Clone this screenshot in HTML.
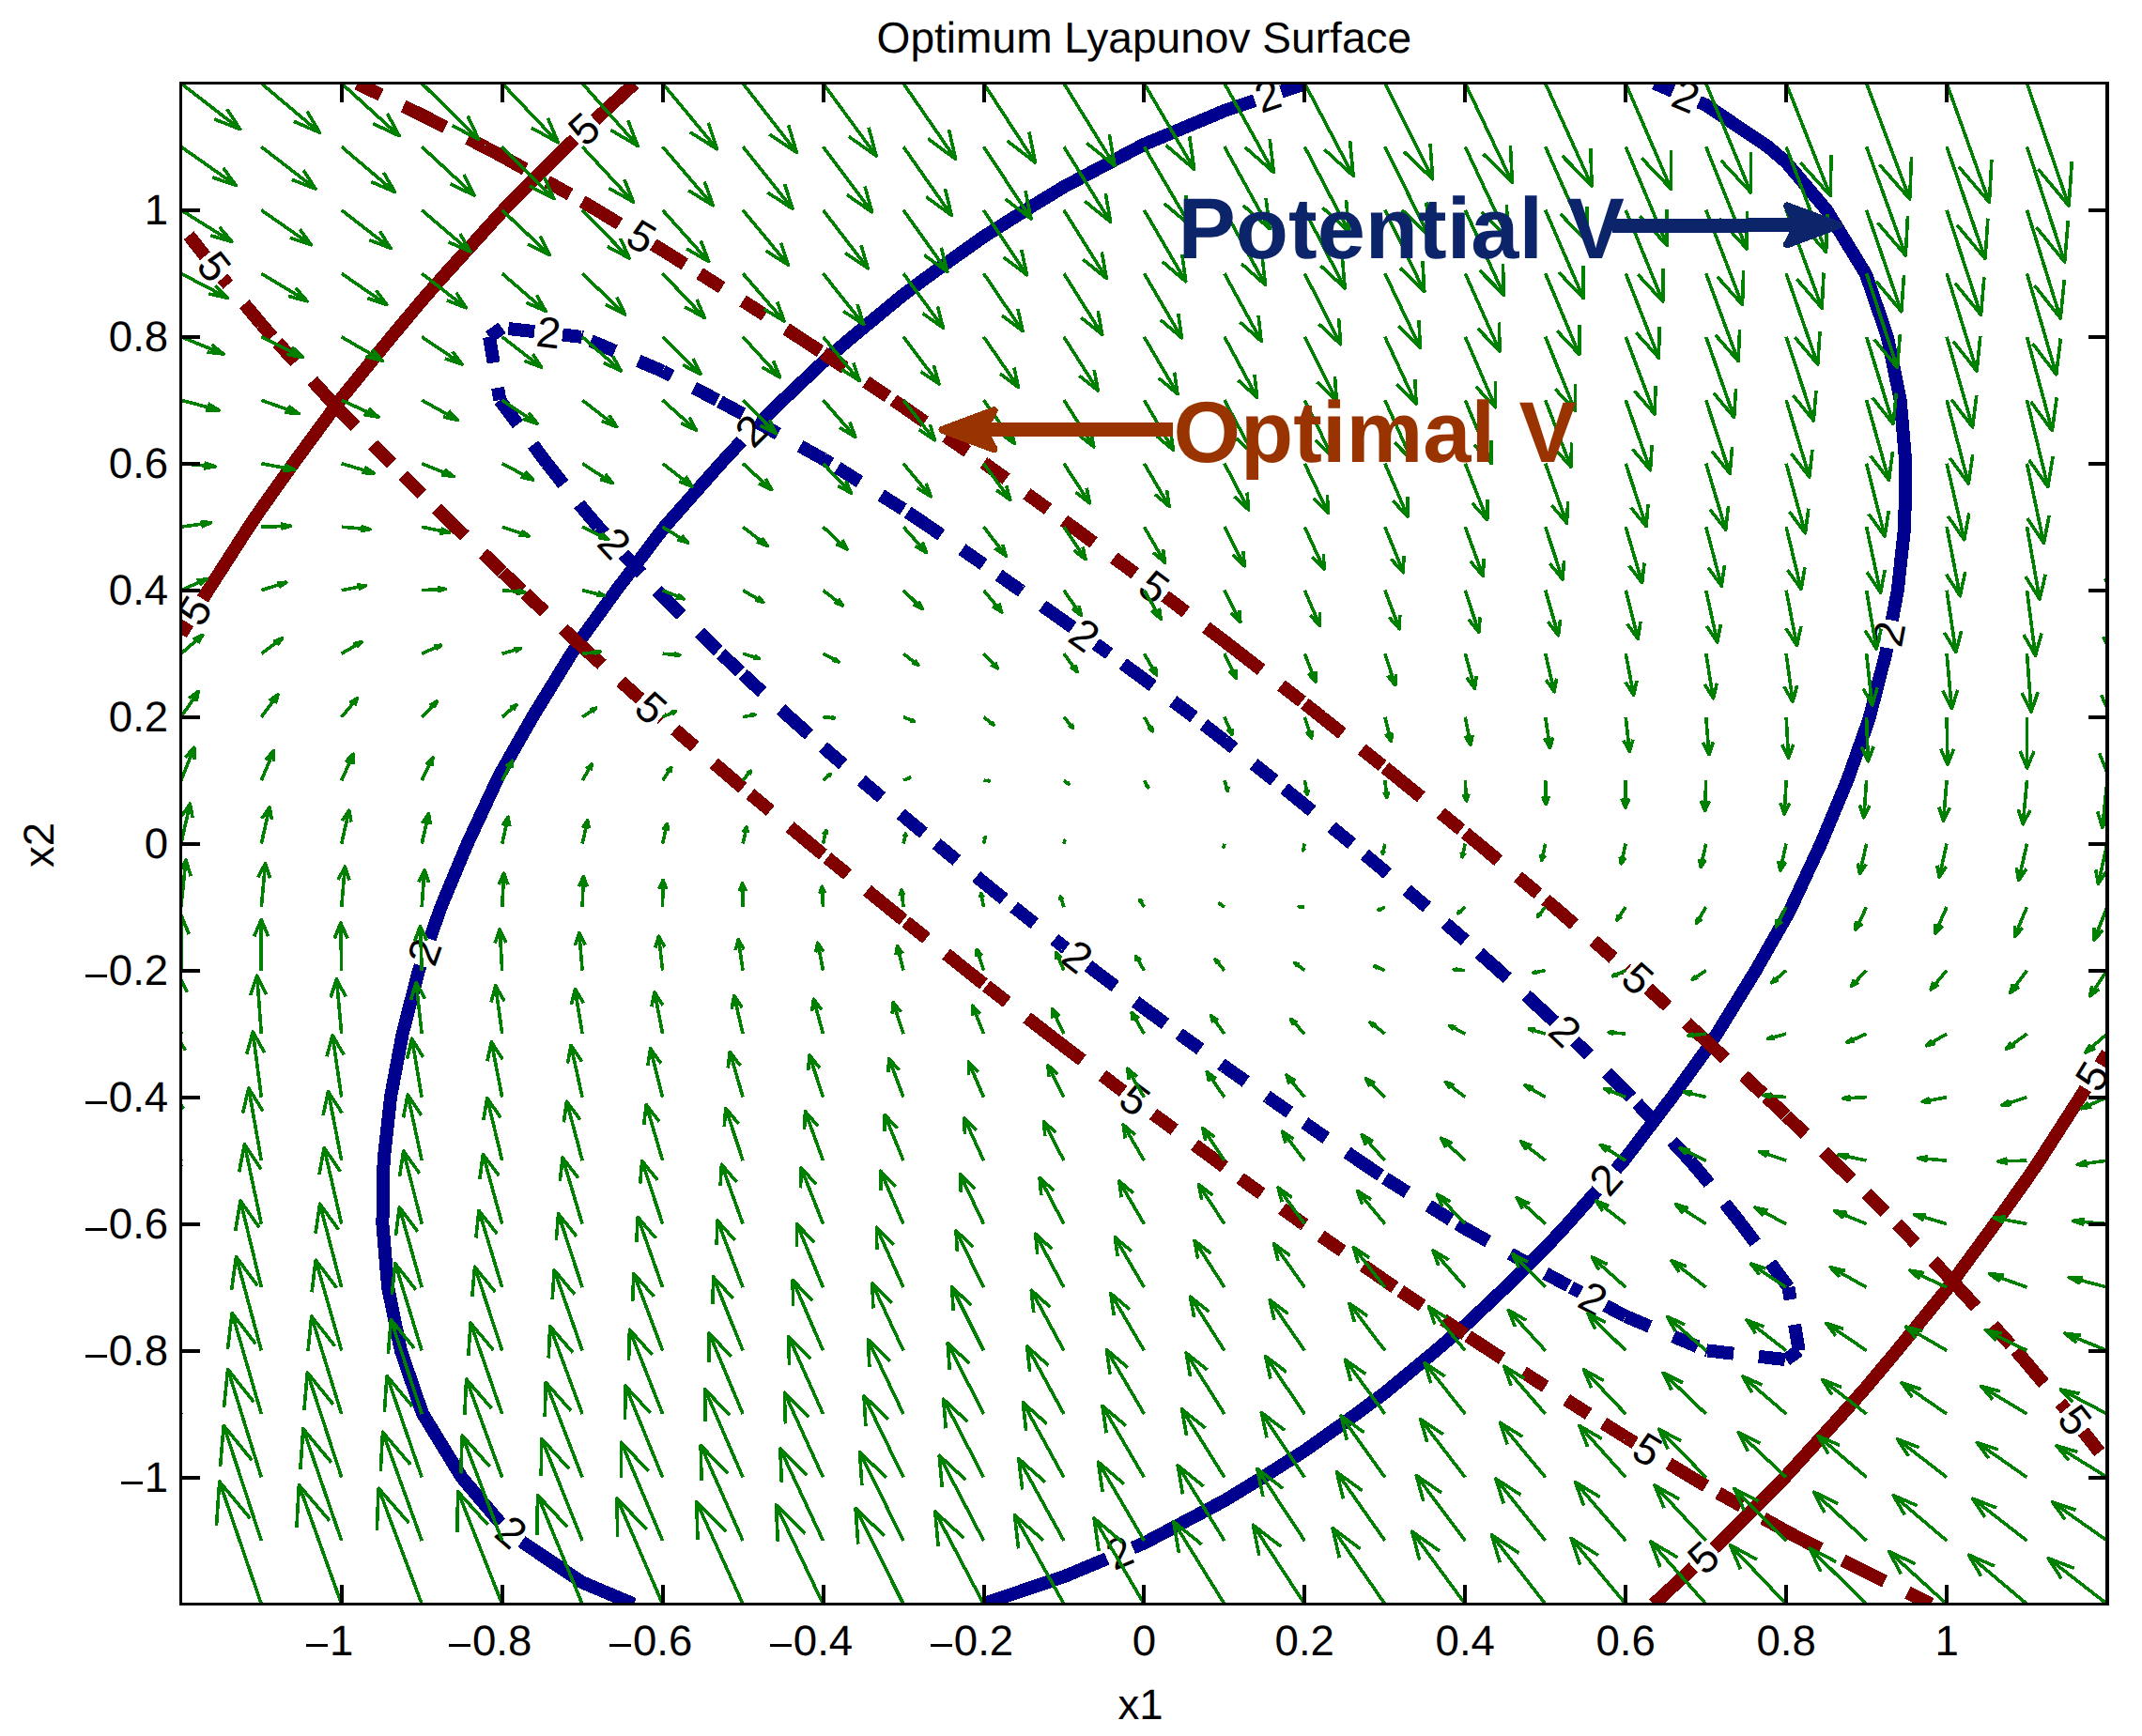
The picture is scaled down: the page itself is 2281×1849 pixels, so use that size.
<!DOCTYPE html>
<html><head><meta charset="utf-8"><title>Optimum Lyapunov Surface</title>
<style>html,body{margin:0;padding:0;background:#fff}svg{display:block}</style></head>
<body>
<svg width="2281" height="1849" viewBox="0 0 2281 1849" shape-rendering="crispEdges" text-rendering="geometricPrecision">
<rect width="2281" height="1849" fill="#fff"/>
<defs><clipPath id="ax"><rect x="192.8" y="88.8" width="2051.2" height="1619.7"/></clipPath></defs>
<g clip-path="url(#ax)">
<path d="M674.9 1708.5 L620.1 1685.4 L555.5 1642" fill="none" stroke="#00008f" stroke-width="14.0" stroke-linejoin="miter"/>
<path d="M533 1622.3 L491.6 1573.5 L450.3 1506 L449.2 1503.4 L426.9 1438.6 L413.1 1371.1 L407.4 1303.6 L408.6 1236.1 L416 1168.6 L428.6 1101.1 L445.9 1033.6 L447.7 1028.4" fill="none" stroke="#00008f" stroke-width="14.0" stroke-linejoin="miter"/>
<path d="M457.6 1000.1 L469.6 966.1 L497.7 898.6 L529.1 831.2 L534.7 820.6 L567.1 763.7 L608.5 696.2 L620.1 678.7 L656.3 628.7 L705.6 563.8 L707.7 561.2 L767.5 493.7 L789.8 469.7" fill="none" stroke="#00008f" stroke-width="14.0" stroke-linejoin="miter"/>
<path d="M811 448.5 L833.6 426.2 L876.5 385.6 L907.7 358.8 L962 313.9 L992.5 291.3 L1047.5 252.1 L1092.2 223.8 L1132.9 199 L1213.5 156.3 L1218.4 153.8 L1303.9 118 L1336.1 107.2" fill="none" stroke="#00008f" stroke-width="14.0" stroke-linejoin="miter"/>
<path d="M1364.5 97.7 L1389.3 89.3 L1391.7 88.8" fill="none" stroke="#00008f" stroke-width="14.0" stroke-linejoin="miter"/>
<path d="M1761.9 88.8 L1781.5 97.1" fill="none" stroke="#00008f" stroke-width="14.0" stroke-linejoin="miter"/>
<path d="M1809.1 108.7 L1816.7 111.9 L1882.8 156.3 L1902.1 172.9 L1945.2 223.8 L1986.5 291.3 L1987.6 293.9 L2009.9 358.8 L2023.7 426.2 L2029.4 493.7 L2028.2 561.2 L2020.8 628.7 L2014.8 660.7" fill="none" stroke="#00008f" stroke-width="14.0" stroke-linejoin="miter"/>
<path d="M2009.3 690.1 L2008.2 696.2 L1990.9 763.7 L1987.6 773.6 L1967.2 831.2 L1939.1 898.6 L1907.7 966.1 L1902.1 976.7 L1869.7 1033.6 L1828.3 1101.1 L1816.7 1118.6 L1780.5 1168.6 L1731.2 1233.5 L1729.1 1236.1 L1720.6 1245.7" fill="none" stroke="#00008f" stroke-width="14.0" stroke-linejoin="miter"/>
<path d="M1700.7 1268.1 L1669.3 1303.6 L1645.7 1329 L1603.2 1371.1 L1560.3 1411.7 L1529.1 1438.5 L1474.8 1483.4 L1444.3 1506 L1389.3 1545.2 L1344.6 1573.5 L1303.9 1598.3 L1223.3 1641 L1218.4 1643.5 L1206.4 1648.6" fill="none" stroke="#00008f" stroke-width="14.0" stroke-linejoin="miter"/>
<path d="M1178.7 1660.1 L1132.9 1679.3 L1047.5 1708 L1045.1 1708.5" fill="none" stroke="#00008f" stroke-width="14.0" stroke-linejoin="miter"/>
<path d="M2244 1121.8 L2236.6 1133.8" fill="none" stroke="#800000" stroke-width="14.0" stroke-linejoin="miter"/>
<path d="M2220.9 1159.4 L2215.2 1168.6 L2171.8 1236.1 L2158.5 1255.7 L2124.4 1303.6 L2074.8 1371.1 L2073.1 1373.3 L2020 1438.5 L1987.6 1477.2 L1962.1 1506 L1902.1 1572 L1900.7 1573.5 L1833.3 1641 L1825.1 1649" fill="none" stroke="#800000" stroke-width="14.0" stroke-linejoin="miter"/>
<path d="M1803.3 1669.6 L1761 1708.5" fill="none" stroke="#800000" stroke-width="14.0" stroke-linejoin="miter"/>
<path d="M192.8 675.5 L200.2 663.5" fill="none" stroke="#800000" stroke-width="14.0" stroke-linejoin="miter"/>
<path d="M215.9 637.9 L221.6 628.7 L265 561.2 L278.3 541.6 L312.4 493.7 L362 426.2 L363.7 424 L416.8 358.8 L449.2 320.1 L474.7 291.3 L534.7 225.3 L536.1 223.8 L603.5 156.3 L611.7 148.3" fill="none" stroke="#800000" stroke-width="14.0" stroke-linejoin="miter"/>
<path d="M633.5 127.7 L675.8 88.8" fill="none" stroke="#800000" stroke-width="14.0" stroke-linejoin="miter"/>
<path d="M380.4 88.8L405.5 101.1 M429.7 113.1L449.2 122.6 M449.2 122.6L474.2 135.3 M498.3 147.5L515.6 156.3 M515.6 156.3L534.7 166.4 M534.7 166.4L559.1 180.1 M582.6 193.4L607 207.1 M620.1 214.6L635.7 223.8 M635.7 223.8L659.6 238.4" fill="none" stroke="#800000" stroke-width="14.0"/>
<path d="M695.6 260.4L705.6 266.5 M705.6 266.5L729.3 281.4 M745.1 291.3L768.7 306.3 M791.1 320.5L814.6 335.7 M837.2 350.4L850.1 358.8 M850.1 358.8L873.5 374.1 M876.5 376.1L899.8 391.7 M922.2 406.7L945.5 422.3 M951.4 426.2L962 433.4 M962 433.4L985 449.4 M1007.2 464.8L1030.2 480.8 M1047.5 492.8L1048.8 493.7 M1048.8 493.7L1071.5 510.1 M1093.4 525.9L1116.1 542.3 M1132.9 554.5L1142.1 561.2 M1142.1 561.2L1164.5 577.9 M1186.2 594.1L1208.7 610.8" fill="none" stroke="#800000" stroke-width="14.0"/>
<path d="M1240.7 634.9L1262.9 651.9 M1284.4 668.2L1303.9 683 M1303.9 683L1321 696.2 M1321 696.2L1343.1 713.4 M1364.4 730L1386.5 747.2 M1389.3 749.4L1407.4 763.7 M1407.4 763.7L1429.2 781.2 M1450.3 798L1472.2 815.5 M1474.8 817.6L1491.6 831.2 M1491.6 831.2L1513.3 848.9 M1534.2 865.9L1555.9 883.6 M1560.3 887.2L1574.2 898.6 M1574.2 898.6L1595.7 916.6 M1616.5 933.8L1638 951.7 M1645.7 958.2L1655.2 966.1 M1655.2 966.1L1676.4 984.4 M1696.9 1002L1718.1 1020.3 M1731.2 1031.5L1732.7 1032.8" fill="none" stroke="#800000" stroke-width="14.0"/>
<path d="M1755 1052.9L1775.8 1071.6 M1795.9 1089.6L1808.7 1101.1 M1808.7 1101.1L1816.7 1108.4 M1816.7 1108.4L1837.1 1127.5 M1856.9 1145.9L1877.4 1165 M1881.2 1168.6L1901.6 1187.9 M1902.1 1188.4L1922.3 1207.8 M1941.8 1226.5L1951.8 1236.1 M1951.8 1236.1L1971.8 1255.7 M1987.6 1271.2L2007.4 1291 M2020 1303.6L2039.5 1323.7 M2058.3 1343L2073.1 1358.2 M2073.1 1358.2L2085.2 1371.1 M2085.2 1371.1L2104.1 1391.8 M2122.3 1411.7L2141.2 1432.4 M2146.8 1438.5L2158.5 1452 M2158.5 1452L2176.5 1473.5 M2193.9 1494.2L2199.7 1501.1" fill="none" stroke="#800000" stroke-width="14.0"/>
<path d="M2218.4 1524.6L2235.7 1546.6" fill="none" stroke="#800000" stroke-width="14.0"/>
<path d="M2056.4 1708.5L2031.3 1696.2 M2007.1 1684.2L1987.6 1674.7 M1987.6 1674.7L1962.6 1662 M1938.5 1649.8L1921.2 1641 M1921.2 1641L1902.1 1630.9 M1902.1 1630.9L1877.7 1617.2 M1854.2 1603.9L1829.8 1590.2 M1816.7 1582.7L1801.1 1573.5 M1801.1 1573.5L1777.2 1558.9" fill="none" stroke="#800000" stroke-width="14.0"/>
<path d="M1741.2 1536.9L1731.2 1530.8 M1731.2 1530.8L1707.5 1515.9 M1691.7 1506L1668.1 1491 M1645.7 1476.8L1622.2 1461.6 M1599.6 1446.9L1586.7 1438.5 M1586.7 1438.5L1563.3 1423.2 M1560.3 1421.2L1537 1405.6 M1514.6 1390.6L1491.3 1375 M1485.4 1371.1L1474.8 1363.9 M1474.8 1363.9L1451.8 1347.9 M1429.6 1332.5L1406.6 1316.5 M1389.3 1304.5L1388 1303.6 M1388 1303.6L1365.3 1287.2 M1343.4 1271.4L1320.7 1255 M1303.9 1242.8L1294.7 1236.1 M1294.7 1236.1L1272.3 1219.4 M1250.6 1203.2L1228.1 1186.5" fill="none" stroke="#800000" stroke-width="14.0"/>
<path d="M1196.1 1162.4L1173.9 1145.4 M1152.4 1129.1L1132.9 1114.3 M1132.9 1114.3L1115.8 1101.1 M1115.8 1101.1L1093.7 1083.9 M1072.4 1067.3L1050.3 1050.1 M1047.5 1047.9L1029.4 1033.6 M1029.4 1033.6L1007.6 1016.1 M986.5 999.3L964.6 981.8 M962 979.7L945.2 966.1 M945.2 966.1L923.5 948.4 M902.6 931.4L880.9 913.7 M876.5 910.1L862.6 898.7 M862.6 898.7L841.1 880.7 M820.3 863.5L798.8 845.6 M791.1 839.1L781.6 831.2 M781.6 831.2L760.4 812.9 M739.9 795.3L718.7 777 M705.6 765.8L704.1 764.5" fill="none" stroke="#800000" stroke-width="14.0"/>
<path d="M681.8 744.4L661 725.7 M640.9 707.7L628.1 696.2 M628.1 696.2L620.1 688.9 M620.1 688.9L599.7 669.8 M579.9 651.4L559.4 632.3 M555.6 628.7L535.2 609.4 M534.7 608.9L514.5 589.5 M495 570.8L485 561.2 M485 561.2L465 541.6 M449.2 526.1L429.4 506.3 M416.8 493.7L397.3 473.6 M378.5 454.3L363.7 439.1 M363.7 439.1L351.6 426.2 M351.6 426.2L332.7 405.5 M314.5 385.6L295.6 364.9 M290 358.8L278.3 345.3 M278.3 345.3L260.3 323.8 M242.9 303.1L237.1 296.2" fill="none" stroke="#800000" stroke-width="14.0"/>
<path d="M218.4 272.7L201.1 250.7" fill="none" stroke="#800000" stroke-width="14.0"/>
<path d="M534.7 349.2L521.1 358.8 M521.1 358.8L525.7 386.4 M530.1 413L532.3 426.2 M532.3 426.2L534.7 429.5 M534.7 429.5L551.4 452 M567.6 473.6L582.6 493.7 M582.6 493.7L600 515.7 M616.7 536.8L620.1 541.1 M620.1 541.1L637.2 561.2 M637.2 561.2L643.6 568.2" fill="none" stroke="#00008f" stroke-width="14.0"/>
<path d="M664 590.2L682.9 610.8 M699.4 628.7L705.6 635 M705.6 635L725.6 654.7 M744.8 673.6L764.8 693.2 M767.8 696.2L788.1 715.4 M791.1 718.2L811.7 737.1 M831.6 755.4L840.6 763.7 M840.6 763.7L861.5 782.3 M876.5 795.7L897.7 814 M917.3 831.2L938.7 849.3 M959.2 866.8L962 869.2 M962 869.2L983.5 887.2 M997.2 898.6L1018.8 916.4 M1039.7 933.6L1047.5 940 M1047.5 940L1069.2 957.6 M1079.7 966.1L1101.7 983.6 M1122.8 1000.4L1132.9 1008.5 M1132.9 1008.5L1135.2 1010.2" fill="none" stroke="#00008f" stroke-width="14.0"/>
<path d="M1158.8 1028.6L1165.3 1033.6 M1165.3 1033.6L1187.6 1050.5 M1209.1 1066.8L1218.4 1073.8 M1218.4 1073.8L1241 1090.4 M1255.6 1101.1L1278.3 1117.4 M1300.3 1133.2L1303.9 1135.8 M1303.9 1135.8L1326.7 1151.9 M1348.8 1167.5L1350.3 1168.6 M1350.3 1168.6L1373.2 1184.7 M1389.3 1196.1L1412.3 1212.1 M1434.5 1227.5L1446.9 1236.1 M1446.9 1236.1L1470.1 1251.7 M1474.8 1254.9L1498.5 1269.8 M1521.3 1284.2L1545 1299.2 M1552 1303.6L1560.3 1308.5 M1560.3 1308.5L1584.7 1322.1 M1608.3 1335.3L1632.7 1349 M1645.7 1356.3L1670.4 1369.6 M1673 1371.1L1683.1 1376.4" fill="none" stroke="#00008f" stroke-width="14.0"/>
<path d="M1709.6 1390.5L1731.2 1402 M1731.2 1402L1757 1412.9 M1781.9 1423.4L1807.7 1434.3 M1816.7 1438.1L1818.3 1438.5 M1818.3 1438.5L1846.1 1441.7 M1872.9 1444.8L1900.8 1448 M1902.1 1448.1L1915.7 1438.5 M1915.7 1438.5L1911.1 1410.9 M1906.7 1384.3L1904.5 1371.1 M1904.5 1371.1L1902.1 1367.8 M1902.1 1367.8L1885.4 1345.3 M1869.2 1323.7L1854.2 1303.6 M1854.2 1303.6L1836.8 1281.6 M1820.1 1260.5L1816.7 1256.2 M1816.7 1256.2L1799.6 1236.1 M1799.6 1236.1L1780.6 1215.5 M1762.3 1195.7L1743.3 1175.1 M1737.4 1168.6L1731.2 1162.3 M1731.2 1162.3L1711.2 1142.6 M1692 1123.7L1676.9 1108.9" fill="none" stroke="#00008f" stroke-width="14.0"/>
<path d="M1655.3 1088.1L1645.7 1079.1 M1645.7 1079.1L1625.1 1060.2 M1605.2 1041.9L1596.2 1033.6 M1596.2 1033.6L1575.3 1015 M1560.3 1001.6L1539.1 983.3 M1519.5 966.1L1498.1 948 M1477.6 930.5L1474.8 928.1 M1474.8 928.1L1453.3 910.1 M1439.6 898.6L1418 880.9 M1397.1 863.7L1389.3 857.3 M1389.3 857.3L1367.6 839.7 M1357.1 831.2L1335.1 813.7 M1314 796.9L1303.9 788.8 M1303.9 788.8L1281.8 771.6 M1271.5 763.7L1249.2 746.8 M1227.7 730.5L1218.4 723.5 M1218.4 723.5L1195.8 706.9 M1181.2 696.2L1166.8 685.8" fill="none" stroke="#00008f" stroke-width="14.0"/>
<path d="M1142.4 668.3L1132.9 661.5 M1132.9 661.5L1110.1 645.4 M1088 629.8L1086.5 628.7 M1086.5 628.7L1063.6 612.6 M1047.5 601.2L1024.5 585.2 M1002.3 569.8L989.9 561.2 M989.9 561.2L966.7 545.6 M962 542.4L938.3 527.5 M915.5 513.1L891.8 498.1 M884.8 493.7L876.5 488.8 M876.5 488.8L852.1 475.2 M828.5 462L804.1 448.3 M791.1 441L766.4 427.7 M763.8 426.2L739 413.1 M715.2 400.4L705.6 395.3 M705.6 395.3L679.8 384.4 M654.9 373.9L629.1 363 M620.1 359.2L618.5 358.8 M618.5 358.8L599 356.5" fill="none" stroke="#00008f" stroke-width="14.0"/>
<path d="M569.2 353.1L541.3 350" fill="none" stroke="#00008f" stroke-width="14.0"/>
<text transform="translate(1350.3 102.4) rotate(-18.6)" x="0" y="0" text-anchor="middle" font-family="Liberation Sans, Arial, Helvetica, sans-serif" font-size="46" fill="#000" dy="15.2">2</text>
<text transform="translate(800.4 459.1) rotate(-44.6)" x="0" y="0" text-anchor="middle" font-family="Liberation Sans, Arial, Helvetica, sans-serif" font-size="46" fill="#000" dy="15.2">2</text>
<text transform="translate(452.6 1014.2) rotate(-70.5)" x="0" y="0" text-anchor="middle" font-family="Liberation Sans, Arial, Helvetica, sans-serif" font-size="46" fill="#000" dy="15.2">2</text>
<text transform="translate(544.0 1632.4) rotate(40.7)" x="0" y="0" text-anchor="middle" font-family="Liberation Sans, Arial, Helvetica, sans-serif" font-size="46" fill="#000" dy="15.2">2</text>
<text transform="translate(1795.3 102.9) rotate(22.9)" x="0" y="0" text-anchor="middle" font-family="Liberation Sans, Arial, Helvetica, sans-serif" font-size="46" fill="#000" dy="15.2">2</text>
<text transform="translate(2012.1 675.4) rotate(-79.4)" x="0" y="0" text-anchor="middle" font-family="Liberation Sans, Arial, Helvetica, sans-serif" font-size="46" fill="#000" dy="15.2">2</text>
<text transform="translate(1710.6 1256.9) rotate(-48.5)" x="0" y="0" text-anchor="middle" font-family="Liberation Sans, Arial, Helvetica, sans-serif" font-size="46" fill="#000" dy="15.2">2</text>
<text transform="translate(1192.5 1654.4) rotate(-22.7)" x="0" y="0" text-anchor="middle" font-family="Liberation Sans, Arial, Helvetica, sans-serif" font-size="46" fill="#000" dy="15.2">2</text>
<text transform="translate(1814.3 1659.4) rotate(-42.6)" x="0" y="0" text-anchor="middle" font-family="Liberation Sans, Arial, Helvetica, sans-serif" font-size="46" fill="#000" dy="15.2">5</text>
<text transform="translate(2228.7 1146.6) rotate(-58.4)" x="0" y="0" text-anchor="middle" font-family="Liberation Sans, Arial, Helvetica, sans-serif" font-size="46" fill="#000" dy="15.2">5</text>
<text transform="translate(622.5 137.9) rotate(-42.6)" x="0" y="0" text-anchor="middle" font-family="Liberation Sans, Arial, Helvetica, sans-serif" font-size="46" fill="#000" dy="15.2">5</text>
<text transform="translate(208.1 650.7) rotate(-58.4)" x="0" y="0" text-anchor="middle" font-family="Liberation Sans, Arial, Helvetica, sans-serif" font-size="46" fill="#000" dy="15.2">5</text>
<text transform="translate(682.8 252.6) rotate(31.4)" x="0" y="0" text-anchor="middle" font-family="Liberation Sans, Arial, Helvetica, sans-serif" font-size="46" fill="#000" dy="15.2">5</text>
<text transform="translate(1228.7 625.8) rotate(37.0)" x="0" y="0" text-anchor="middle" font-family="Liberation Sans, Arial, Helvetica, sans-serif" font-size="46" fill="#000" dy="15.2">5</text>
<text transform="translate(1743.8 1042.8) rotate(41.9)" x="0" y="0" text-anchor="middle" font-family="Liberation Sans, Arial, Helvetica, sans-serif" font-size="46" fill="#000" dy="15.2">5</text>
<text transform="translate(2209.2 1512.8) rotate(51.8)" x="0" y="0" text-anchor="middle" font-family="Liberation Sans, Arial, Helvetica, sans-serif" font-size="46" fill="#000" dy="15.2">5</text>
<text transform="translate(1754.0 1544.7) rotate(31.4)" x="0" y="0" text-anchor="middle" font-family="Liberation Sans, Arial, Helvetica, sans-serif" font-size="46" fill="#000" dy="15.2">5</text>
<text transform="translate(1208.1 1171.5) rotate(37.0)" x="0" y="0" text-anchor="middle" font-family="Liberation Sans, Arial, Helvetica, sans-serif" font-size="46" fill="#000" dy="15.2">5</text>
<text transform="translate(693.0 754.5) rotate(41.9)" x="0" y="0" text-anchor="middle" font-family="Liberation Sans, Arial, Helvetica, sans-serif" font-size="46" fill="#000" dy="15.2">5</text>
<text transform="translate(227.6 284.5) rotate(51.8)" x="0" y="0" text-anchor="middle" font-family="Liberation Sans, Arial, Helvetica, sans-serif" font-size="46" fill="#000" dy="15.2">5</text>
<text transform="translate(584.1 354.8) rotate(6.5)" x="0" y="0" text-anchor="middle" font-family="Liberation Sans, Arial, Helvetica, sans-serif" font-size="46" fill="#000" dy="15.2">2</text>
<text transform="translate(1154.6 677.1) rotate(35.7)" x="0" y="0" text-anchor="middle" font-family="Liberation Sans, Arial, Helvetica, sans-serif" font-size="46" fill="#000" dy="15.2">2</text>
<text transform="translate(1666.2 1098.4) rotate(43.4)" x="0" y="0" text-anchor="middle" font-family="Liberation Sans, Arial, Helvetica, sans-serif" font-size="46" fill="#000" dy="15.2">2</text>
<text transform="translate(653.8 579.2) rotate(47.3)" x="0" y="0" text-anchor="middle" font-family="Liberation Sans, Arial, Helvetica, sans-serif" font-size="46" fill="#000" dy="15.2">2</text>
<text transform="translate(1147.0 1019.4) rotate(37.9)" x="0" y="0" text-anchor="middle" font-family="Liberation Sans, Arial, Helvetica, sans-serif" font-size="46" fill="#000" dy="15.2">2</text>
<text transform="translate(1696.3 1383.5) rotate(28.0)" x="0" y="0" text-anchor="middle" font-family="Liberation Sans, Arial, Helvetica, sans-serif" font-size="46" fill="#000" dy="15.2">2</text>
<path d="M192.8 1708.5L149.1 1574.6M145 1622.5L149.1 1574.6L182 1615 M192.8 1641L153.5 1514.7M149.1 1559.8L153.5 1514.7L183.9 1553 M192.8 1573.5L158 1454.8M153.1 1497L158 1454.8L185.8 1491 M192.8 1506L162.4 1395M157.1 1434.2L162.4 1395L187.8 1429 M192.8 1438.5L166.8 1335.1M161.1 1371.5L166.8 1335.1L189.7 1367 M192.8 1371.1L171.3 1275.2M165.2 1308.7L171.3 1275.2L191.6 1305 M192.8 1303.6L175.7 1215.3M169.2 1245.9L175.7 1215.3L193.5 1243 M192.8 1236.1L180.2 1155.5M173.2 1183.2L180.2 1155.5L195.5 1181 M192.8 1168.6L184.6 1095.6M177.3 1120.4L184.6 1095.6L197.4 1119 M192.8 1101.1L189.1 1035.7M181.3 1057.6L189.1 1035.7L199.3 1057 M192.8 1033.6L193.5 975.9M185.3 994.9L193.5 975.9L201.2 995 M192.8 966.1L198 916M189.3 932.1L198 916L203.2 933 M192.8 898.6L202.4 856.1M193.4 869.3L202.4 856.1L205.1 871 M192.8 831.2L206.8 796.2M197.4 806.6L206.8 796.2L207 809 M192.8 763.7L211.3 736.4M201.4 743.8L211.3 736.4L209 747 M192.8 696.2L215.7 676.5M205.4 681L215.7 676.5L210.9 685 M192.8 628.7L220.2 616.6M209.5 618.3L220.2 616.6L212.8 623 M192.8 561.2L224.6 556.8M213.5 555.5L224.6 556.8L214.7 561 M192.8 493.7L229.1 496.9M217.5 492.7L229.1 496.9L216.7 499 M192.8 426.2L233.5 437M221.6 430L233.5 437L218.6 437 M192.8 358.8L238 377.1M225.6 367.2L238 377.1L220.5 375 M192.8 291.3L242.4 317.3M229.6 304.4L242.4 317.3L222.4 313 M192.8 223.8L246.8 257.4M233.6 241.7L246.8 257.4L224.4 250.9 M192.8 156.3L251.3 197.5M237.7 178.9L251.3 197.5L226.3 188.9 M192.8 88.8L255.7 137.7M241.7 116.1L255.7 137.7L228.2 126.9 M278.3 1708.5L233.7 1578.1M230.5 1625L233.7 1578.1L266.4 1617.3 M278.3 1641L238.2 1518.3M234.5 1562.2L238.2 1518.3L268.3 1555.3 M278.3 1573.5L242.6 1458.4M238.5 1499.4L242.6 1458.4L270.3 1493.3 M278.3 1506L247.1 1398.5M242.5 1436.7L247.1 1398.5L272.2 1431.3 M278.3 1438.5L251.5 1338.6M246.6 1373.9L251.5 1338.6L274.1 1369.3 M278.3 1371.1L256 1278.8M250.6 1311.1L256 1278.8L276 1307.3 M278.3 1303.6L260.4 1218.9M254.6 1248.4L260.4 1218.9L278 1245.3 M278.3 1236.1L264.8 1159M258.6 1185.6L264.8 1159L279.9 1183.3 M278.3 1168.6L269.3 1099.1M262.7 1122.8L269.3 1099.1L281.8 1121.3 M278.3 1101.1L273.7 1039.3M266.7 1060.1L273.7 1039.3L283.8 1059.3 M278.3 1033.6L278.2 979.4M270.7 997.3L278.2 979.4L285.7 997.3 M278.3 966.1L282.6 919.5M274.8 934.5L282.6 919.5L287.6 935.3 M278.3 898.6L287.1 859.7M278.8 871.8L287.1 859.7L289.5 873.3 M278.3 831.2L291.5 799.8M282.8 809L291.5 799.8L291.5 811.3 M278.3 763.7L296 739.9M286.8 746.2L296 739.9L293.4 749.3 M278.3 696.2L300.4 680M290.9 683.5L300.4 680L295.3 687.3 M278.3 628.7L304.8 620.2M294.9 620.7L304.8 620.2L297.2 625.3 M278.3 561.2L309.3 560.3M298.9 557.9L309.3 560.3L299.2 563.3 M278.3 493.7L313.7 500.4M303 495.2L313.7 500.4L301.1 501.3 M278.3 426.2L318.2 440.6M307 432.4L318.2 440.6L303 439.3 M278.3 358.8L322.6 380.7M311 369.6L322.6 380.7L305 377.3 M278.3 291.3L327.1 320.8M315 306.9L327.1 320.8L306.9 315.3 M278.3 223.8L331.5 260.9M319.1 244.1L331.5 260.9L308.8 253.3 M278.3 156.3L336 201.1M323.1 181.3L336 201.1L310.7 191.3 M278.3 88.8L340.4 141.2M327.1 118.6L340.4 141.2L312.7 129.2 M363.7 1708.5L318.4 1581.7M315.9 1627.4L318.4 1581.7L350.9 1619.6 M363.7 1641L322.8 1521.8M319.9 1564.7L322.8 1521.8L352.8 1557.6 M363.7 1573.5L327.3 1461.9M323.9 1501.9L327.3 1461.9L354.7 1495.6 M363.7 1506L331.7 1402.1M328 1439.1L331.7 1402.1L356.6 1433.6 M363.7 1438.5L336.2 1342.2M332 1376.4L336.2 1342.2L358.6 1371.6 M363.7 1371.1L340.6 1282.3M336 1313.6L340.6 1282.3L360.5 1309.6 M363.7 1303.6L345.1 1222.4M340 1250.8L345.1 1222.4L362.4 1247.6 M363.7 1236.1L349.5 1162.6M344.1 1188.1L349.5 1162.6L364.3 1185.6 M363.7 1168.6L354 1102.7M348.1 1125.3L354 1102.7L366.3 1123.6 M363.7 1101.1L358.4 1042.8M352.1 1062.5L358.4 1042.8L368.2 1061.6 M363.7 1033.6L362.8 982.9M356.1 999.7L362.8 982.9L370.1 999.6 M363.7 966.1L367.3 923.1M360.2 937L367.3 923.1L372.1 937.6 M363.7 898.6L371.7 863.2M364.2 874.2L371.7 863.2L374 875.6 M363.7 831.2L376.2 803.3M368.2 811.4L376.2 803.3L375.9 813.6 M363.7 763.7L380.6 743.5M372.3 748.7L380.6 743.5L377.8 751.6 M363.7 696.2L385.1 683.6M376.3 685.9L385.1 683.6L379.8 689.6 M363.7 628.7L389.5 623.7M380.3 623.1L389.5 623.7L381.7 627.6 M363.7 561.2L394 563.8M384.3 560.4L394 563.8L383.6 565.6 M363.7 493.7L398.4 504M388.4 497.6L398.4 504L385.5 503.6 M363.7 426.2L402.8 444.1M392.4 434.8L402.8 444.1L387.5 441.6 M363.7 358.8L407.3 384.2M396.4 372.1L407.3 384.2L389.4 379.6 M363.7 291.3L411.7 324.4M400.5 309.3L411.7 324.4L391.3 317.6 M363.7 223.8L416.2 264.5M404.5 246.5L416.2 264.5L393.3 255.6 M363.7 156.3L420.6 204.6M408.5 183.8L420.6 204.6L395.2 193.6 M363.7 88.8L425.1 144.7M412.5 121L425.1 144.7L397.1 131.6 M449.2 1708.5L403.1 1585.2M401.3 1629.9L403.1 1585.2L435.3 1621.9 M449.2 1641L407.5 1525.3M405.3 1567.1L407.5 1525.3L437.2 1559.9 M449.2 1573.5L412 1465.5M409.3 1504.3L412 1465.5L439.1 1497.9 M449.2 1506L416.4 1405.6M413.4 1441.6L416.4 1405.6L441.1 1435.9 M449.2 1438.5L420.8 1345.7M417.4 1378.8L420.8 1345.7L443 1373.9 M449.2 1371.1L425.3 1285.9M421.4 1316L425.3 1285.9L444.9 1311.9 M449.2 1303.6L429.7 1226M425.5 1253.3L429.7 1226L446.9 1249.9 M449.2 1236.1L434.2 1166.1M429.5 1190.5L434.2 1166.1L448.8 1187.9 M449.2 1168.6L438.6 1106.2M433.5 1127.7L438.6 1106.2L450.7 1125.9 M449.2 1101.1L443.1 1046.4M437.5 1065L443.1 1046.4L452.6 1063.9 M449.2 1033.6L447.5 986.5M441.6 1002.2L447.5 986.5L454.6 1001.9 M449.2 966.1L452 926.6M445.6 939.4L452 926.6L456.5 939.9 M449.2 898.6L456.4 866.8M449.6 876.7L456.4 866.8L458.4 877.9 M449.2 831.2L460.8 806.9M453.7 813.9L460.8 806.9L460.4 815.9 M449.2 763.7L465.3 747M457.7 751.1L465.3 747L462.3 753.9 M449.2 696.2L469.7 687.1M461.7 688.4L469.7 687.1L464.2 691.9 M449.2 628.7L474.2 627.3M465.7 625.6L474.2 627.3L466.1 629.9 M449.2 561.2L478.6 567.4M469.8 562.8L478.6 567.4L468.1 567.9 M449.2 493.7L483.1 507.5M473.8 500.1L483.1 507.5L470 505.9 M449.2 426.2L487.5 447.6M477.8 437.3L487.5 447.6L471.9 443.9 M449.2 358.8L492 387.8M481.8 374.5L492 387.8L473.8 381.9 M449.2 291.3L496.4 327.9M485.9 311.8L496.4 327.9L475.8 319.9 M449.2 223.8L500.8 268M489.9 249L500.8 268L477.7 257.9 M449.2 156.3L505.3 208.2M493.9 186.2L505.3 208.2L479.6 195.9 M449.2 88.8L509.7 148.3M498 123.4L509.7 148.3L481.6 133.9 M534.7 1708.5L487.7 1588.8M486.7 1632.3L487.7 1588.8L519.7 1624.2 M534.7 1641L492.2 1528.9M490.7 1569.5L492.2 1528.9L521.7 1562.2 M534.7 1573.5L496.6 1469M494.8 1506.8L496.6 1469L523.6 1500.2 M534.7 1506L501.1 1409.1M498.8 1444L501.1 1409.1L525.5 1438.2 M534.7 1438.5L505.5 1349.3M502.8 1381.2L505.5 1349.3L527.4 1376.2 M534.7 1371.1L510 1289.4M506.8 1318.5L510 1289.4L529.4 1314.2 M534.7 1303.6L514.4 1229.5M510.9 1255.7L514.4 1229.5L531.3 1252.2 M534.7 1236.1L518.8 1169.7M514.9 1192.9L518.8 1169.7L533.2 1190.2 M534.7 1168.6L523.3 1109.8M518.9 1130.2L523.3 1109.8L535.2 1128.2 M534.7 1101.1L527.7 1049.9M523 1067.4L527.7 1049.9L537.1 1066.2 M534.7 1033.6L532.2 990M527 1004.6L532.2 990L539 1004.2 M534.7 966.1L536.6 930.2M531 941.9L536.6 930.2L540.9 942.2 M534.7 898.6L541.1 870.3M535 879.1L541.1 870.3L542.9 880.2 M534.7 831.2L545.5 810.4M539.1 816.3L545.5 810.4L544.8 818.2 M534.7 763.7L550 750.6M543.1 753.6L550 750.6L546.7 756.2 M534.7 696.2L554.4 690.7M547.1 690.8L554.4 690.7L548.6 694.2 M534.7 628.7L558.8 630.8M551.2 628L558.8 630.8L550.6 632.2 M534.7 561.2L563.3 570.9M555.2 565.3L563.3 570.9L552.5 570.2 M534.7 493.7L567.7 511.1M559.2 502.5L567.7 511.1L554.4 508.2 M534.7 426.2L572.2 451.2M563.2 439.7L572.2 451.2L556.4 446.2 M534.7 358.8L576.6 391.3M567.3 377L576.6 391.3L558.3 384.2 M534.7 291.3L581.1 331.4M571.3 314.2L581.1 331.4L560.2 322.2 M534.7 223.8L585.5 271.6M575.3 251.4L585.5 271.6L562.1 260.2 M534.7 156.3L590 211.7M579.4 188.7L590 211.7L564.1 198.2 M534.7 88.8L594.4 151.8M583.4 125.9L594.4 151.8L566 136.2 M620.1 1708.5L572.4 1592.3M572.1 1634.8L572.4 1592.3L604.2 1626.5 M620.1 1641L576.8 1532.4M576.2 1572L576.8 1532.4L606.1 1564.5 M620.1 1573.5L581.3 1472.6M580.2 1509.2L581.3 1472.6L608 1502.5 M620.1 1506L585.7 1412.7M584.2 1446.5L585.7 1412.7L610 1440.5 M620.1 1438.5L590.2 1352.8M588.2 1383.7L590.2 1352.8L611.9 1378.5 M620.1 1371.1L594.6 1292.9M592.3 1320.9L594.6 1292.9L613.8 1316.5 M620.1 1303.6L599.1 1233.1M596.3 1258.1L599.1 1233.1L615.7 1254.5 M620.1 1236.1L603.5 1173.2M600.3 1195.4L603.5 1173.2L617.7 1192.5 M620.1 1168.6L608 1113.3M604.4 1132.6L608 1113.3L619.6 1130.5 M620.1 1101.1L612.4 1053.5M608.4 1069.8L612.4 1053.5L621.5 1068.5 M620.1 1033.6L616.8 993.6M612.4 1007.1L616.8 993.6L623.5 1006.5 M620.1 966.1L621.3 933.7M616.4 944.3L621.3 933.7L625.4 944.5 M620.1 898.6L625.7 873.8M620.5 881.5L625.7 873.8L627.3 882.5 M620.1 831.2L630.2 814M624.5 818.8L630.2 814L629.2 820.5 M620.1 763.7L634.6 754.1M628.5 756L634.6 754.1L631.2 758.5 M620.1 696.2L639.1 694.2M632.5 693.2L639.1 694.2L633.1 696.5 M620.1 628.7L643.5 634.4M636.6 630.5L643.5 634.4L635 634.5 M620.1 561.2L648 574.5M640.6 567.7L648 574.5L636.9 572.5 M620.1 493.7L652.4 514.6M644.6 504.9L652.4 514.6L638.9 510.5 M620.1 426.2L656.8 454.7M648.7 442.2L656.8 454.7L640.8 448.5 M620.1 358.8L661.3 394.9M652.7 379.4L661.3 394.9L642.7 386.5 M620.1 291.3L665.7 335M656.7 316.6L665.7 335L644.7 324.5 M620.1 223.8L670.2 275.1M660.7 253.9L670.2 275.1L646.6 262.5 M620.1 156.3L674.6 215.2M664.8 191.1L674.6 215.2L648.5 200.5 M620.1 88.8L679.1 155.4M668.8 128.3L679.1 155.4L650.4 138.5 M705.6 1708.5L657.1 1595.8M657.5 1637.2L657.1 1595.8L688.6 1628.9 M705.6 1641L661.5 1536M661.6 1574.4L661.5 1536L690.5 1566.8 M705.6 1573.5L666 1476.1M665.6 1511.7L666 1476.1L692.5 1504.8 M705.6 1506L670.4 1416.2M669.6 1448.9L670.4 1416.2L694.4 1442.8 M705.6 1438.5L674.8 1356.4M673.7 1386.1L674.8 1356.4L696.3 1380.8 M705.6 1371.1L679.3 1296.5M677.7 1323.4L679.3 1296.5L698.3 1318.8 M705.6 1303.6L683.7 1236.6M681.7 1260.6L683.7 1236.6L700.2 1256.8 M705.6 1236.1L688.2 1176.7M685.7 1197.8L688.2 1176.7L702.1 1194.8 M705.6 1168.6L692.6 1116.9M689.8 1135.1L692.6 1116.9L704 1132.8 M705.6 1101.1L697.1 1057M693.8 1072.3L697.1 1057L706 1070.8 M705.6 1033.6L701.5 997.1M697.8 1009.5L701.5 997.1L707.9 1008.8 M705.6 966.1L706 937.3M701.9 946.8L706 937.3L709.8 946.8 M705.6 898.6L710.4 877.4M705.9 884L710.4 877.4L711.7 884.8 M705.6 831.2L714.8 817.5M709.9 821.2L714.8 817.5L713.7 822.8 M705.6 763.7L719.3 757.6M713.9 758.5L719.3 757.6L715.6 760.8 M705.6 696.2L723.7 697.8M718 695.7L723.7 697.8L717.5 698.8 M705.6 628.7L728.2 637.9M722 632.9L728.2 637.9L719.5 636.8 M705.6 561.2L732.6 578M726 570.2L732.6 578L721.4 574.8 M705.6 493.7L737.1 518.2M730.1 507.4L737.1 518.2L723.3 512.8 M705.6 426.2L741.5 458.3M734.1 444.6L741.5 458.3L725.2 450.8 M705.6 358.8L746 398.4M738.1 381.8L746 398.4L727.2 388.8 M705.6 291.3L750.4 338.5M742.1 319.1L750.4 338.5L729.1 326.8 M705.6 223.8L754.8 278.7M746.2 256.3L754.8 278.7L731 264.8 M705.6 156.3L759.3 218.8M750.2 193.5L759.3 218.8L733 202.8 M705.6 88.8L763.7 158.9M754.2 130.8L763.7 158.9L734.9 140.8 M791.1 1708.5L741.7 1599.4M743 1639.6L741.7 1599.4L773.1 1631.2 M791.1 1641L746.2 1539.5M747 1576.9L746.2 1539.5L775 1569.2 M791.1 1573.5L750.6 1479.6M751 1514.1L750.6 1479.6L776.9 1507.2 M791.1 1506L755.1 1419.8M755.1 1451.3L755.1 1419.8L778.8 1445.1 M791.1 1438.5L759.5 1359.9M759.1 1388.6L759.5 1359.9L780.8 1383.1 M791.1 1371.1L764 1300M763.1 1325.8L764 1300L782.7 1321.1 M791.1 1303.6L768.4 1240.2M767.1 1263L768.4 1240.2L784.6 1259.1 M791.1 1236.1L772.8 1180.3M771.2 1200.3L772.8 1180.3L786.6 1197.1 M791.1 1168.6L777.3 1120.4M775.2 1137.5L777.3 1120.4L788.5 1135.1 M791.1 1101.1L781.7 1060.5M779.2 1074.7L781.7 1060.5L790.4 1073.1 M791.1 1033.6L786.2 1000.7M783.2 1012L786.2 1000.7L792.3 1011.1 M791.1 966.1L790.6 940.8M787.3 949.2L790.6 940.8L794.3 949.1 M791.1 898.6L795.1 880.9M791.3 886.4L795.1 880.9L796.2 887.1 M791.1 831.2L799.5 821.1M795.3 823.7L799.5 821.1L798.1 825.1 M791.1 763.7L804 761.2M799.4 760.9L804 761.2L800 763.1 M791.1 696.2L808.4 701.3M803.4 698.1L808.4 701.3L802 701.1 M791.1 628.7L812.8 641.4M807.4 635.4L812.8 641.4L803.9 639.1 M791.1 561.2L817.3 581.6M811.4 572.6L817.3 581.6L805.8 577.1 M791.1 493.7L821.7 521.7M815.5 509.8L821.7 521.7L807.8 515.1 M791.1 426.2L826.2 461.8M819.5 447.1L826.2 461.8L809.7 453.1 M791.1 358.8L830.6 402M823.5 384.3L830.6 402L811.6 391.1 M791.1 291.3L835.1 342.1M827.6 321.5L835.1 342.1L813.5 329.1 M791.1 223.8L839.5 282.2M831.6 258.8L839.5 282.2L815.5 267.1 M791.1 156.3L844 222.3M835.6 196L844 222.3L817.4 205.1 M791.1 88.8L848.4 162.5M839.6 133.2L848.4 162.5L819.3 143.1 M876.5 1708.5L826.4 1602.9M828.4 1642.1L826.4 1602.9L857.5 1633.5 M876.5 1641L830.8 1543.1M832.4 1579.3L830.8 1543.1L859.4 1571.5 M876.5 1573.5L835.3 1483.2M836.4 1516.5L835.3 1483.2L861.4 1509.5 M876.5 1506L839.7 1423.3M840.5 1453.8L839.7 1423.3L863.3 1447.5 M876.5 1438.5L844.2 1363.4M844.5 1391L844.2 1363.4L865.2 1385.5 M876.5 1371.1L848.6 1303.6M848.5 1328.2L848.6 1303.6L867.1 1323.4 M876.5 1303.6L853.1 1243.7M852.6 1265.5L853.1 1243.7L869.1 1261.4 M876.5 1236.1L857.5 1183.8M856.6 1202.7L857.5 1183.8L871 1199.4 M876.5 1168.6L862 1124M860.6 1139.9L862 1124L872.9 1137.4 M876.5 1101.1L866.4 1064.1M864.6 1077.2L866.4 1064.1L874.9 1075.4 M876.5 1033.6L870.8 1004.2M868.7 1014.4L870.8 1004.2L876.8 1013.4 M876.5 966.1L875.3 944.3M872.7 951.6L875.3 944.3L878.7 951.4 M876.5 898.6L879.7 884.5M876.7 888.9L879.7 884.5L880.6 889.4 M876.5 831.2L884.2 824.6M880.7 826.1L884.2 824.6L882.6 827.4 M876.5 763.7L888.6 764.7M884.8 763.3L888.6 764.7L884.5 765.4 M876.5 696.2L893.1 704.9M888.8 700.6L893.1 704.9L886.4 703.4 M876.5 628.7L897.5 645M892.8 637.8L897.5 645L888.3 641.4 M876.5 561.2L902 585.1M896.9 575L902 585.1L890.3 579.4 M876.5 493.7L906.4 525.2M900.9 512.3L906.4 525.2L892.2 517.4 M876.5 426.2L910.8 465.4M904.9 449.5L910.8 465.4L894.1 455.4 M876.5 358.8L915.3 405.5M908.9 386.7L915.3 405.5L896.1 393.4 M876.5 291.3L919.7 345.6M913 324L919.7 345.6L898 331.4 M876.5 223.8L924.2 285.8M917 261.2L924.2 285.8L899.9 269.4 M876.5 156.3L928.6 225.9M921 198.4L928.6 225.9L901.8 207.4 M876.5 88.8L933.1 166M925.1 135.7L933.1 166L903.8 145.4 M962 1708.5L911.1 1606.5M913.8 1644.5L911.1 1606.5L941.9 1635.8 M962 1641L915.5 1546.6M917.8 1581.8L915.5 1546.6L943.9 1573.8 M962 1573.5L920 1486.7M921.9 1519L920 1486.7L945.8 1511.8 M962 1506L924.4 1426.9M925.9 1456.2L924.4 1426.9L947.7 1449.8 M962 1438.5L928.8 1367M929.9 1393.5L928.8 1367L949.7 1387.8 M962 1371.1L933.3 1307.1M933.9 1330.7L933.3 1307.1L951.6 1325.8 M962 1303.6L937.7 1247.2M938 1267.9L937.7 1247.2L953.5 1263.8 M962 1236.1L942.2 1187.4M942 1205.2L942.2 1187.4L955.4 1201.7 M962 1168.6L946.6 1127.5M946 1142.4L946.6 1127.5L957.4 1139.7 M962 1101.1L951.1 1067.6M950.1 1079.6L951.1 1067.6L959.3 1077.7 M962 1033.6L955.5 1007.8M954.1 1016.9L955.5 1007.8L961.2 1015.7 M962 966.1L960 947.9M958.1 954.1L960 947.9L963.1 953.7 M962 898.6L964.4 888M962.1 891.3L964.4 888L965.1 891.7 M962 831.2L968.8 828.1M966.2 828.6L968.8 828.1L967 829.7 M962 763.7L973.3 768.3M970.2 765.8L973.3 768.3L968.9 767.7 M962 696.2L977.7 708.4M974.2 703L977.7 708.4L970.9 705.7 M962 628.7L982.2 648.5M978.3 640.2L982.2 648.5L972.8 643.7 M962 561.2L986.6 588.7M982.3 577.5L986.6 588.7L974.7 581.7 M962 493.7L991.1 528.8M986.3 514.7L991.1 528.8L976.6 519.7 M962 426.2L995.5 468.9M990.3 451.9L995.5 468.9L978.6 457.7 M962 358.8L1000 409M994.4 389.2L1000 409L980.5 395.7 M962 291.3L1004.4 349.2M998.4 326.4L1004.4 349.2L982.4 333.7 M962 223.8L1008.8 289.3M1002.4 263.6L1008.8 289.3L984.3 271.7 M962 156.3L1013.3 229.4M1006.4 200.9L1013.3 229.4L986.3 209.7 M962 88.8L1017.7 169.6M1010.5 138.1L1017.7 169.6L988.2 147.7 M1047.5 1708.5L995.7 1610M999.2 1647L995.7 1610L1026.4 1638.1 M1047.5 1641L1000.2 1550.2M1003.3 1584.2L1000.2 1550.2L1028.3 1576.1 M1047.5 1573.5L1004.6 1490.3M1007.3 1521.4L1004.6 1490.3L1030.2 1514.1 M1047.5 1506L1009.1 1430.4M1011.3 1458.7L1009.1 1430.4L1032.2 1452.1 M1047.5 1438.5L1013.5 1370.5M1015.3 1395.9L1013.5 1370.5L1034.1 1390.1 M1047.5 1371.1L1018 1310.7M1019.4 1333.1L1018 1310.7L1036 1328.1 M1047.5 1303.6L1022.4 1250.8M1023.4 1270.4L1022.4 1250.8L1038 1266.1 M1047.5 1236.1L1026.8 1190.9M1027.4 1207.6L1026.8 1190.9L1039.9 1204.1 M1047.5 1168.6L1031.3 1131M1031.4 1144.8L1031.3 1131L1041.8 1142.1 M1047.5 1101.1L1035.7 1071.2M1035.5 1082.1L1035.7 1071.2L1043.7 1080 M1047.5 1033.6L1040.2 1011.3M1039.5 1019.3L1040.2 1011.3L1045.7 1018 M1047.5 966.1L1044.6 951.4M1043.5 956.5L1044.6 951.4L1047.6 956 M1047.5 898.6L1049.1 891.6M1047.6 893.8L1049.1 891.6L1049.5 894 M1047.5 831.2L1053.5 831.7M1051.6 831L1053.5 831.7L1051.4 832 M1047.5 763.7L1058 771.8M1055.6 768.2L1058 771.8L1053.4 770 M1047.5 696.2L1062.4 711.9M1059.6 705.5L1062.4 711.9L1055.3 708 M1047.5 628.7L1066.8 652.1M1063.7 642.7L1066.8 652.1L1057.2 646 M1047.5 561.2L1071.3 592.2M1067.7 579.9L1071.3 592.2L1059.2 584 M1047.5 493.7L1075.7 532.3M1071.7 517.2L1075.7 532.3L1061.1 522 M1047.5 426.2L1080.2 472.5M1075.8 454.4L1080.2 472.5L1063 460 M1047.5 358.8L1084.6 412.6M1079.8 391.6L1084.6 412.6L1064.9 398 M1047.5 291.3L1089.1 352.7M1083.8 328.9L1089.1 352.7L1066.9 336 M1047.5 223.8L1093.5 292.8M1087.8 266.1L1093.5 292.8L1068.8 274 M1047.5 156.3L1098 233M1091.9 203.3L1098 233L1070.7 212 M1047.5 88.8L1102.4 173.1M1095.9 140.6L1102.4 173.1L1072.6 150 M1132.9 1708.5L1080.4 1613.6M1084.6 1649.4L1080.4 1613.6L1110.8 1640.4 M1132.9 1641L1084.8 1553.7M1088.7 1586.6L1084.8 1553.7L1112.8 1578.4 M1132.9 1573.5L1089.3 1493.8M1092.7 1523.9L1089.3 1493.8L1114.7 1516.4 M1132.9 1506L1093.7 1434M1096.7 1461.1L1093.7 1434L1116.6 1454.4 M1132.9 1438.5L1098.2 1374.1M1100.8 1398.3L1098.2 1374.1L1118.5 1392.4 M1132.9 1371.1L1102.6 1314.2M1104.8 1335.6L1102.6 1314.2L1120.5 1330.4 M1132.9 1303.6L1107.1 1254.3M1108.8 1272.8L1107.1 1254.3L1122.4 1268.4 M1132.9 1236.1L1111.5 1194.5M1112.8 1210L1111.5 1194.5L1124.3 1206.4 M1132.9 1168.6L1116 1134.6M1116.9 1147.3L1116 1134.6L1126.2 1144.4 M1132.9 1101.1L1120.4 1074.7M1120.9 1084.5L1120.4 1074.7L1128.2 1082.4 M1132.9 1033.6L1124.8 1014.8M1124.9 1021.7L1124.8 1014.8L1130.1 1020.4 M1132.9 966.1L1129.3 955M1129 959L1129.3 955L1132 958.3 M1132.9 898.6L1133.7 895.1M1133 896.2L1133.7 895.1L1134 896.3 M1132.9 831.2L1138.2 835.2M1137 833.4L1138.2 835.2L1135.9 834.3 M1132.9 763.7L1142.6 775.4M1141 770.7L1142.6 775.4L1137.8 772.3 M1132.9 696.2L1147.1 715.5M1145.1 707.9L1147.1 715.5L1139.7 710.3 M1132.9 628.7L1151.5 655.6M1149.1 645.1L1151.5 655.6L1141.7 648.3 M1132.9 561.2L1156 595.7M1153.1 582.4L1156 595.7L1143.6 586.3 M1132.9 493.7L1160.4 535.9M1157.1 519.6L1160.4 535.9L1145.5 524.3 M1132.9 426.2L1164.8 476M1161.2 456.8L1164.8 476L1147.5 462.3 M1132.9 358.8L1169.3 416.1M1165.2 394.1L1169.3 416.1L1149.4 400.3 M1132.9 291.3L1173.7 356.3M1169.2 331.3L1173.7 356.3L1151.3 338.3 M1132.9 223.8L1178.2 296.4M1173.3 268.5L1178.2 296.4L1153.2 276.3 M1132.9 156.3L1182.6 236.5M1177.3 205.8L1182.6 236.5L1155.2 214.3 M1132.9 88.8L1187.1 176.6M1181.3 143L1187.1 176.6L1157.1 152.3 M1218.4 1708.5L1165.1 1617.1M1170.1 1651.9L1165.1 1617.1L1195.3 1642.7 M1218.4 1641L1169.5 1557.2M1174.1 1589.1L1169.5 1557.2L1197.2 1580.7 M1218.4 1573.5L1174 1497.4M1178.1 1526.3L1174 1497.4L1199.1 1518.7 M1218.4 1506L1178.4 1437.5M1182.1 1463.6L1178.4 1437.5L1201.1 1456.7 M1218.4 1438.5L1182.8 1377.6M1186.2 1400.8L1182.8 1377.6L1203 1394.7 M1218.4 1371.1L1187.3 1317.8M1190.2 1338L1187.3 1317.8L1204.9 1332.7 M1218.4 1303.6L1191.7 1257.9M1194.2 1275.3L1191.7 1257.9L1206.8 1270.7 M1218.4 1236.1L1196.2 1198M1198.3 1212.5L1196.2 1198L1208.8 1208.7 M1218.4 1168.6L1200.6 1138.1M1202.3 1149.7L1200.6 1138.1L1210.7 1146.7 M1218.4 1101.1L1205.1 1078.3M1206.3 1087L1205.1 1078.3L1212.6 1084.7 M1218.4 1033.6L1209.5 1018.4M1210.3 1024.2L1209.5 1018.4L1214.5 1022.7 M1218.4 966.1L1214 958.5M1214.4 961.4L1214 958.5L1216.5 960.7 M1218.4 898.6L1218.4 898.6M1218.4 898.6L1218.4 898.6L1218.4 898.6 M1218.4 831.2L1222.8 838.8M1222.4 835.9L1222.8 838.8L1220.3 836.6 M1218.4 763.7L1227.3 778.9M1226.5 773.1L1227.3 778.9L1222.3 774.6 M1218.4 696.2L1231.7 719M1230.5 710.3L1231.7 719L1224.2 712.6 M1218.4 628.7L1236.2 659.2M1234.5 647.6L1236.2 659.2L1226.1 650.6 M1218.4 561.2L1240.6 599.3M1238.5 584.8L1240.6 599.3L1228 588.6 M1218.4 493.7L1245.1 539.4M1242.6 522L1245.1 539.4L1230 526.6 M1218.4 426.2L1249.5 479.5M1246.6 459.3L1249.5 479.5L1231.9 464.6 M1218.4 358.8L1254 419.7M1250.6 396.5L1254 419.7L1233.8 402.6 M1218.4 291.3L1258.4 359.8M1254.7 333.7L1258.4 359.8L1235.7 340.6 M1218.4 223.8L1262.8 299.9M1258.7 271L1262.8 299.9L1237.7 278.6 M1218.4 156.3L1267.3 240.1M1262.7 208.2L1267.3 240.1L1239.6 216.6 M1218.4 88.8L1271.7 180.2M1266.7 145.4L1271.7 180.2L1241.5 154.6 M1303.9 1708.5L1249.7 1620.7M1255.5 1654.3L1249.7 1620.7L1279.7 1645 M1303.9 1641L1254.2 1560.8M1259.5 1591.5L1254.2 1560.8L1281.6 1583 M1303.9 1573.5L1258.6 1500.9M1263.5 1528.8L1258.6 1500.9L1283.6 1521 M1303.9 1506L1263.1 1441M1267.6 1466L1263.1 1441L1285.5 1459 M1303.9 1438.5L1267.5 1381.2M1271.6 1403.2L1267.5 1381.2L1287.4 1397 M1303.9 1371.1L1272 1321.3M1275.6 1340.5L1272 1321.3L1289.3 1335 M1303.9 1303.6L1276.4 1261.4M1279.7 1277.7L1276.4 1261.4L1291.3 1273 M1303.9 1236.1L1280.8 1201.6M1283.7 1214.9L1280.8 1201.6L1293.2 1211 M1303.9 1168.6L1285.3 1141.7M1287.7 1152.2L1285.3 1141.7L1295.1 1149 M1303.9 1101.1L1289.7 1081.8M1291.7 1089.4L1289.7 1081.8L1297.1 1087 M1303.9 1033.6L1294.2 1021.9M1295.8 1026.6L1294.2 1021.9L1299 1025 M1303.9 966.1L1298.6 962.1M1299.8 963.9L1298.6 962.1L1300.9 963 M1303.9 898.6L1303.1 902.2M1303.8 901.1L1303.1 902.2L1302.8 901 M1303.9 831.2L1307.5 842.3M1307.8 838.3L1307.5 842.3L1304.8 839 M1303.9 763.7L1312 782.5M1311.9 775.6L1312 782.5L1306.7 776.9 M1303.9 696.2L1316.4 722.6M1315.9 712.8L1316.4 722.6L1308.6 714.9 M1303.9 628.7L1320.8 662.7M1319.9 650L1320.8 662.7L1310.6 652.9 M1303.9 561.2L1325.3 602.8M1324 587.3L1325.3 602.8L1312.5 590.9 M1303.9 493.7L1329.7 543M1328 524.5L1329.7 543L1314.4 528.9 M1303.9 426.2L1334.2 483.1M1332 461.7L1334.2 483.1L1316.3 466.9 M1303.9 358.8L1338.6 423.2M1336 399L1338.6 423.2L1318.3 404.9 M1303.9 291.3L1343.1 363.3M1340.1 336.2L1343.1 363.3L1320.2 342.9 M1303.9 223.8L1347.5 303.5M1344.1 273.4L1347.5 303.5L1322.1 280.9 M1303.9 156.3L1352 243.6M1348.1 210.7L1352 243.6L1324 218.9 M1303.9 88.8L1356.4 183.7M1352.2 147.9L1356.4 183.7L1326 156.9 M1389.3 1708.5L1334.4 1624.2M1340.9 1656.7L1334.4 1624.2L1364.2 1647.3 M1389.3 1641L1338.8 1564.3M1344.9 1594L1338.8 1564.3L1366.1 1585.3 M1389.3 1573.5L1343.3 1504.5M1349 1531.2L1343.3 1504.5L1368 1523.3 M1389.3 1506L1347.7 1444.6M1353 1468.4L1347.7 1444.6L1369.9 1461.3 M1389.3 1438.5L1352.2 1384.7M1357 1405.7L1352.2 1384.7L1371.9 1399.3 M1389.3 1371.1L1356.6 1324.8M1361 1342.9L1356.6 1324.8L1373.8 1337.3 M1389.3 1303.6L1361.1 1265M1365.1 1280.1L1361.1 1265L1375.7 1275.3 M1389.3 1236.1L1365.5 1205.1M1369.1 1217.4L1365.5 1205.1L1377.6 1213.3 M1389.3 1168.6L1370 1145.2M1373.1 1154.6L1370 1145.2L1379.6 1151.3 M1389.3 1101.1L1374.4 1085.4M1377.2 1091.8L1374.4 1085.4L1381.5 1089.3 M1389.3 1033.6L1378.8 1025.5M1381.2 1029.1L1378.8 1025.5L1383.4 1027.3 M1389.3 966.1L1383.3 965.6M1385.2 966.3L1383.3 965.6L1385.4 965.3 M1389.3 898.6L1387.7 905.7M1389.2 903.5L1387.7 905.7L1387.3 903.3 M1389.3 831.2L1392.2 845.9M1393.3 840.8L1392.2 845.9L1389.2 841.3 M1389.3 763.7L1396.6 786M1397.3 778L1396.6 786L1391.1 779.3 M1389.3 696.2L1401.1 726.1M1401.3 715.2L1401.1 726.1L1393.1 717.3 M1389.3 628.7L1405.5 666.3M1405.4 652.5L1405.5 666.3L1395 655.2 M1389.3 561.2L1410 606.4M1409.4 589.7L1410 606.4L1396.9 593.2 M1389.3 493.7L1414.4 546.5M1413.4 526.9L1414.4 546.5L1398.8 531.2 M1389.3 426.2L1418.8 486.6M1417.4 464.2L1418.8 486.6L1400.8 469.2 M1389.3 358.8L1423.3 426.8M1421.5 401.4L1423.3 426.8L1402.7 407.2 M1389.3 291.3L1427.7 366.9M1425.5 338.6L1427.7 366.9L1404.6 345.2 M1389.3 223.8L1432.2 307M1429.5 275.9L1432.2 307L1406.6 283.2 M1389.3 156.3L1436.6 247.1M1433.5 213.1L1436.6 247.1L1408.5 221.2 M1389.3 88.8L1441.1 187.3M1437.6 150.3L1441.1 187.3L1410.4 159.2 M1474.8 1708.5L1419.1 1627.7M1426.3 1659.2L1419.1 1627.7L1448.6 1649.6 M1474.8 1641L1423.5 1567.9M1430.4 1596.4L1423.5 1567.9L1450.5 1587.6 M1474.8 1573.5L1428 1508M1434.4 1533.7L1428 1508L1452.5 1525.6 M1474.8 1506L1432.4 1448.1M1438.4 1470.9L1432.4 1448.1L1454.4 1463.6 M1474.8 1438.5L1436.8 1388.3M1442.4 1408.1L1436.8 1388.3L1456.3 1401.6 M1474.8 1371.1L1441.3 1328.4M1446.5 1345.4L1441.3 1328.4L1458.2 1339.6 M1474.8 1303.6L1445.7 1268.5M1450.5 1282.6L1445.7 1268.5L1460.2 1277.6 M1474.8 1236.1L1450.2 1208.6M1454.5 1219.8L1450.2 1208.6L1462.1 1215.6 M1474.8 1168.6L1454.6 1148.8M1458.5 1157.1L1454.6 1148.8L1464 1153.6 M1474.8 1101.1L1459.1 1088.9M1462.6 1094.3L1459.1 1088.9L1465.9 1091.6 M1474.8 1033.6L1463.5 1029M1466.6 1031.5L1463.5 1029L1467.9 1029.6 M1474.8 966.1L1468 969.2M1470.6 968.7L1468 969.2L1469.8 967.6 M1474.8 898.6L1472.4 909.3M1474.7 906L1472.4 909.3L1471.7 905.6 M1474.8 831.2L1476.8 849.4M1478.7 843.2L1476.8 849.4L1473.7 843.6 M1474.8 763.7L1481.3 789.5M1482.7 780.4L1481.3 789.5L1475.6 781.6 M1474.8 696.2L1485.7 729.7M1486.7 717.7L1485.7 729.7L1477.5 719.6 M1474.8 628.7L1490.2 669.8M1490.8 654.9L1490.2 669.8L1479.4 657.6 M1474.8 561.2L1494.6 609.9M1494.8 592.1L1494.6 609.9L1481.4 595.6 M1474.8 493.7L1499.1 550.1M1498.8 529.4L1499.1 550.1L1483.3 533.5 M1474.8 426.2L1503.5 490.2M1502.9 466.6L1503.5 490.2L1485.2 471.5 M1474.8 358.8L1508 430.3M1506.9 403.8L1508 430.3L1487.1 409.5 M1474.8 291.3L1512.4 370.4M1510.9 341.1L1512.4 370.4L1489.1 347.5 M1474.8 223.8L1516.8 310.6M1514.9 278.3L1516.8 310.6L1491 285.5 M1474.8 156.3L1521.3 250.7M1519 215.5L1521.3 250.7L1492.9 223.5 M1474.8 88.8L1525.7 190.8M1523 152.8L1525.7 190.8L1494.9 161.5 M1560.3 1708.5L1503.7 1631.3M1511.7 1661.6L1503.7 1631.3L1533 1651.9 M1560.3 1641L1508.2 1571.4M1515.8 1598.9L1508.2 1571.4L1535 1589.9 M1560.3 1573.5L1512.6 1511.5M1519.8 1536.1L1512.6 1511.5L1536.9 1527.9 M1560.3 1506L1517.1 1451.7M1523.8 1473.3L1517.1 1451.7L1538.8 1465.9 M1560.3 1438.5L1521.5 1391.8M1527.9 1410.6L1521.5 1391.8L1540.7 1403.9 M1560.3 1371.1L1526 1331.9M1531.9 1347.8L1526 1331.9L1542.7 1341.9 M1560.3 1303.6L1530.4 1272.1M1535.9 1285L1530.4 1272.1L1544.6 1279.9 M1560.3 1236.1L1534.8 1212.2M1539.9 1222.3L1534.8 1212.2L1546.5 1217.9 M1560.3 1168.6L1539.3 1152.3M1544 1159.5L1539.3 1152.3L1548.5 1155.9 M1560.3 1101.1L1543.7 1092.4M1548 1096.7L1543.7 1092.4L1550.4 1093.9 M1560.3 1033.6L1548.2 1032.6M1552 1034L1548.2 1032.6L1552.3 1031.9 M1560.3 966.1L1552.6 972.7M1556.1 971.2L1552.6 972.7L1554.2 969.9 M1560.3 898.6L1557.1 912.8M1560.1 908.4L1557.1 912.8L1556.2 907.9 M1560.3 831.2L1561.5 853M1564.1 845.7L1561.5 853L1558.1 845.9 M1560.3 763.7L1566 793.1M1568.1 782.9L1566 793.1L1560 783.9 M1560.3 696.2L1570.4 733.2M1572.2 720.1L1570.4 733.2L1561.9 721.9 M1560.3 628.7L1574.8 673.3M1576.2 657.4L1574.8 673.3L1563.9 659.9 M1560.3 561.2L1579.3 613.5M1580.2 594.6L1579.3 613.5L1565.8 597.9 M1560.3 493.7L1583.7 553.6M1584.2 531.8L1583.7 553.6L1567.7 535.9 M1560.3 426.2L1588.2 493.7M1588.3 469.1L1588.2 493.7L1569.7 473.9 M1560.3 358.8L1592.6 433.9M1592.3 406.3L1592.6 433.9L1571.6 411.8 M1560.3 291.3L1597.1 374M1596.3 343.5L1597.1 374L1573.5 349.8 M1560.3 223.8L1601.5 314.1M1600.4 280.8L1601.5 314.1L1575.4 287.8 M1560.3 156.3L1606 254.2M1604.4 218L1606 254.2L1577.4 225.8 M1560.3 88.8L1610.4 194.4M1608.4 155.2L1610.4 194.4L1579.3 163.8 M1645.7 1708.5L1588.4 1634.8M1597.2 1664.1L1588.4 1634.8L1617.5 1654.2 M1645.7 1641L1592.8 1575M1601.2 1601.3L1592.8 1575L1619.4 1592.2 M1645.7 1573.5L1597.3 1515.1M1605.2 1538.5L1597.3 1515.1L1621.3 1530.2 M1645.7 1506L1601.7 1455.2M1609.2 1475.8L1601.7 1455.2L1623.3 1468.2 M1645.7 1438.5L1606.2 1395.3M1613.3 1413L1606.2 1395.3L1625.2 1406.2 M1645.7 1371.1L1610.6 1335.5M1617.3 1350.2L1610.6 1335.5L1627.1 1344.2 M1645.7 1303.6L1615.1 1275.6M1621.3 1287.5L1615.1 1275.6L1629 1282.2 M1645.7 1236.1L1619.5 1215.7M1625.4 1224.7L1619.5 1215.7L1631 1220.2 M1645.7 1168.6L1624 1155.9M1629.4 1161.9L1624 1155.9L1632.9 1158.2 M1645.7 1101.1L1628.4 1096M1633.4 1099.2L1628.4 1096L1634.8 1096.2 M1645.7 1033.6L1632.8 1036.1M1637.4 1036.4L1632.8 1036.1L1636.8 1034.2 M1645.7 966.1L1637.3 976.2M1641.5 973.6L1637.3 976.2L1638.7 972.2 M1645.7 898.6L1641.7 916.4M1645.5 910.9L1641.7 916.4L1640.6 910.2 M1645.7 831.2L1646.2 856.5M1649.5 848.1L1646.2 856.5L1642.5 848.2 M1645.7 763.7L1650.6 796.6M1653.6 785.3L1650.6 796.6L1644.5 786.2 M1645.7 696.2L1655.1 736.8M1657.6 722.6L1655.1 736.8L1646.4 724.2 M1645.7 628.7L1659.5 676.9M1661.6 659.8L1659.5 676.9L1648.3 662.2 M1645.7 561.2L1664 617M1665.6 597L1664 617L1650.2 600.2 M1645.7 493.7L1668.4 557.1M1669.7 534.3L1668.4 557.1L1652.2 538.2 M1645.7 426.2L1672.8 497.3M1673.7 471.5L1672.8 497.3L1654.1 476.2 M1645.7 358.8L1677.3 437.4M1677.7 408.7L1677.3 437.4L1656 414.2 M1645.7 291.3L1681.7 377.5M1681.7 346L1681.7 377.5L1658 352.2 M1645.7 223.8L1686.2 317.7M1685.8 283.2L1686.2 317.7L1659.9 290.1 M1645.7 156.3L1690.6 257.8M1689.8 220.4L1690.6 257.8L1661.8 228.1 M1645.7 88.8L1695.1 197.9M1693.8 157.7L1695.1 197.9L1663.7 166.1 M1731.2 1708.5L1673.1 1638.4M1682.6 1666.5L1673.1 1638.4L1701.9 1656.5 M1731.2 1641L1677.5 1578.5M1686.6 1603.8L1677.5 1578.5L1703.8 1594.5 M1731.2 1573.5L1682 1518.6M1690.6 1541L1682 1518.6L1705.8 1532.5 M1731.2 1506L1686.4 1458.8M1694.7 1478.2L1686.4 1458.8L1707.7 1470.5 M1731.2 1438.5L1690.8 1398.9M1698.7 1415.5L1690.8 1398.9L1709.6 1408.5 M1731.2 1371.1L1695.3 1339M1702.7 1352.7L1695.3 1339L1711.6 1346.5 M1731.2 1303.6L1699.7 1279.1M1706.7 1289.9L1699.7 1279.1L1713.5 1284.5 M1731.2 1236.1L1704.2 1219.3M1710.8 1227.1L1704.2 1219.3L1715.4 1222.5 M1731.2 1168.6L1708.6 1159.4M1714.8 1164.4L1708.6 1159.4L1717.3 1160.5 M1731.2 1101.1L1713.1 1099.5M1718.8 1101.6L1713.1 1099.5L1719.3 1098.5 M1731.2 1033.6L1717.5 1039.7M1722.9 1038.8L1717.5 1039.7L1721.2 1036.5 M1731.2 966.1L1722 979.8M1726.9 976.1L1722 979.8L1723.1 974.5 M1731.2 898.6L1726.4 919.9M1730.9 913.3L1726.4 919.9L1725.1 912.5 M1731.2 831.2L1730.8 860M1734.9 850.5L1730.8 860L1727 850.5 M1731.2 763.7L1735.3 800.2M1739 787.8L1735.3 800.2L1728.9 788.5 M1731.2 696.2L1739.7 740.3M1743 725L1739.7 740.3L1730.8 726.5 M1731.2 628.7L1744.2 680.4M1747 662.2L1744.2 680.4L1732.8 664.5 M1731.2 561.2L1748.6 620.6M1751.1 599.5L1748.6 620.6L1734.7 602.5 M1731.2 493.7L1753.1 560.7M1755.1 536.7L1753.1 560.7L1736.6 540.5 M1731.2 426.2L1757.5 500.8M1759.1 473.9L1757.5 500.8L1738.5 478.5 M1731.2 358.8L1762 440.9M1763.1 411.2L1762 440.9L1740.5 416.5 M1731.2 291.3L1766.4 381.1M1767.2 348.4L1766.4 381.1L1742.4 354.5 M1731.2 223.8L1770.8 321.2M1771.2 285.6L1770.8 321.2L1744.3 292.5 M1731.2 156.3L1775.3 261.3M1775.2 222.9L1775.3 261.3L1746.3 230.5 M1731.2 88.8L1779.7 201.5M1779.3 160.1L1779.7 201.5L1748.2 168.4 M1816.7 1708.5L1757.7 1641.9M1768 1669L1757.7 1641.9L1786.4 1658.8 M1816.7 1641L1762.2 1582.1M1772 1606.2L1762.2 1582.1L1788.3 1596.8 M1816.7 1573.5L1766.6 1522.2M1776.1 1543.4L1766.6 1522.2L1790.2 1534.8 M1816.7 1506L1771.1 1462.3M1780.1 1480.7L1771.1 1462.3L1792.1 1472.8 M1816.7 1438.5L1775.5 1402.4M1784.1 1417.9L1775.5 1402.4L1794.1 1410.8 M1816.7 1371.1L1780 1342.6M1788.1 1355.1L1780 1342.6L1796 1348.8 M1816.7 1303.6L1784.4 1282.7M1792.2 1292.4L1784.4 1282.7L1797.9 1286.8 M1816.7 1236.1L1788.8 1222.8M1796.2 1229.6L1788.8 1222.8L1799.9 1224.8 M1816.7 1168.6L1793.3 1162.9M1800.2 1166.8L1793.3 1162.9L1801.8 1162.8 M1816.7 1101.1L1797.7 1103.1M1804.3 1104.1L1797.7 1103.1L1803.7 1100.8 M1816.7 1033.6L1802.2 1043.2M1808.3 1041.3L1802.2 1043.2L1805.6 1038.8 M1816.7 966.1L1806.6 983.3M1812.3 978.5L1806.6 983.3L1807.6 976.8 M1816.7 898.6L1811.1 923.5M1816.3 915.8L1811.1 923.5L1809.5 914.8 M1816.7 831.2L1815.5 863.6M1820.4 853L1815.5 863.6L1811.4 852.8 M1816.7 763.7L1820 803.7M1824.4 790.2L1820 803.7L1813.3 790.8 M1816.7 696.2L1824.4 743.8M1828.4 727.5L1824.4 743.8L1815.3 728.8 M1816.7 628.7L1828.8 684M1832.4 664.7L1828.8 684L1817.2 666.8 M1816.7 561.2L1833.3 624.1M1836.5 601.9L1833.3 624.1L1819.1 604.8 M1816.7 493.7L1837.7 564.2M1840.5 539.2L1837.7 564.2L1821.1 542.8 M1816.7 426.2L1842.2 504.4M1844.5 476.4L1842.2 504.4L1823 480.8 M1816.7 358.8L1846.6 444.5M1848.6 413.6L1846.6 444.5L1824.9 418.8 M1816.7 291.3L1851.1 384.6M1852.6 350.8L1851.1 384.6L1826.8 356.8 M1816.7 223.8L1855.5 324.7M1856.6 288.1L1855.5 324.7L1828.8 294.8 M1816.7 156.3L1860 264.9M1860.6 225.3L1860 264.9L1830.7 232.8 M1816.7 88.8L1864.4 205M1864.7 162.5L1864.4 205L1832.6 170.8 M1902.1 1708.5L1842.4 1645.5M1853.4 1671.4L1842.4 1645.5L1870.8 1661.1 M1902.1 1641L1846.8 1585.6M1857.4 1608.6L1846.8 1585.6L1872.7 1599.1 M1902.1 1573.5L1851.3 1525.7M1861.5 1545.9L1851.3 1525.7L1874.7 1537.1 M1902.1 1506L1855.7 1465.9M1865.5 1483.1L1855.7 1465.9L1876.6 1475.1 M1902.1 1438.5L1860.2 1406M1869.5 1420.3L1860.2 1406L1878.5 1413.1 M1902.1 1371.1L1864.6 1346.1M1873.6 1357.6L1864.6 1346.1L1880.4 1351.1 M1902.1 1303.6L1869.1 1286.2M1877.6 1294.8L1869.1 1286.2L1882.4 1289.1 M1902.1 1236.1L1873.5 1226.4M1881.6 1232L1873.5 1226.4L1884.3 1227.1 M1902.1 1168.6L1878 1166.5M1885.6 1169.3L1878 1166.5L1886.2 1165.1 M1902.1 1101.1L1882.4 1106.6M1889.7 1106.5L1882.4 1106.6L1888.2 1103.1 M1902.1 1033.6L1886.8 1046.7M1893.7 1043.7L1886.8 1046.7L1890.1 1041.1 M1902.1 966.1L1891.3 986.9M1897.7 981L1891.3 986.9L1892 979.1 M1902.1 898.6L1895.7 927M1901.8 918.2L1895.7 927L1893.9 917.1 M1902.1 831.2L1900.2 867.1M1905.8 855.4L1900.2 867.1L1895.9 855.1 M1902.1 763.7L1904.6 807.3M1909.8 792.7L1904.6 807.3L1897.8 793.1 M1902.1 696.2L1909.1 747.4M1913.8 729.9L1909.1 747.4L1899.7 731.1 M1902.1 628.7L1913.5 687.5M1917.9 667.1L1913.5 687.5L1901.6 669.1 M1902.1 561.2L1918 627.6M1921.9 604.4L1918 627.6L1903.6 607.1 M1902.1 493.7L1922.4 567.8M1925.9 541.6L1922.4 567.8L1905.5 545.1 M1902.1 426.2L1926.8 507.9M1930 478.8L1926.8 507.9L1907.4 483.1 M1902.1 358.8L1931.3 448M1934 416.1L1931.3 448L1909.4 421.1 M1902.1 291.3L1935.7 388.2M1938 353.3L1935.7 388.2L1911.3 359.1 M1902.1 223.8L1940.2 328.3M1942 290.5L1940.2 328.3L1913.2 297.1 M1902.1 156.3L1944.6 268.4M1946.1 227.8L1944.6 268.4L1915.1 235.1 M1902.1 88.8L1949.1 208.5M1950.1 165L1949.1 208.5L1917.1 173.1 M1987.6 1708.5L1927.1 1649M1938.8 1673.9L1927.1 1649L1955.2 1663.4 M1987.6 1641L1931.5 1589.1M1942.9 1611.1L1931.5 1589.1L1957.2 1601.4 M1987.6 1573.5L1936 1529.3M1946.9 1548.3L1936 1529.3L1959.1 1539.4 M1987.6 1506L1940.4 1469.4M1950.9 1485.5L1940.4 1469.4L1961 1477.4 M1987.6 1438.5L1944.8 1409.5M1955 1422.8L1944.8 1409.5L1963 1415.4 M1987.6 1371.1L1949.3 1349.7M1959 1360L1949.3 1349.7L1964.9 1353.4 M1987.6 1303.6L1953.7 1289.8M1963 1297.2L1953.7 1289.8L1966.8 1291.4 M1987.6 1236.1L1958.2 1229.9M1967 1234.5L1958.2 1229.9L1968.7 1229.4 M1987.6 1168.6L1962.6 1170M1971.1 1171.7L1962.6 1170L1970.7 1167.4 M1987.6 1101.1L1967.1 1110.2M1975.1 1108.9L1967.1 1110.2L1972.6 1105.4 M1987.6 1033.6L1971.5 1050.3M1979.1 1046.2L1971.5 1050.3L1974.5 1043.4 M1987.6 966.1L1976 990.4M1983.1 983.4L1976 990.4L1976.4 981.4 M1987.6 898.6L1980.4 930.5M1987.2 920.6L1980.4 930.5L1978.4 919.4 M1987.6 831.2L1984.8 870.7M1991.2 857.9L1984.8 870.7L1980.3 857.4 M1987.6 763.7L1989.3 810.8M1995.2 795.1L1989.3 810.8L1982.2 795.4 M1987.6 696.2L1993.7 750.9M1999.3 732.3L1993.7 750.9L1984.2 733.4 M1987.6 628.7L1998.2 691.1M2003.3 669.6L1998.2 691.1L1986.1 671.4 M1987.6 561.2L2002.6 631.2M2007.3 606.8L2002.6 631.2L1988 609.4 M1987.6 493.7L2007.1 571.3M2011.3 544L2007.1 571.3L1989.9 547.4 M1987.6 426.2L2011.5 511.4M2015.4 481.3L2011.5 511.4L1991.9 485.4 M1987.6 358.8L2016 451.6M2019.4 418.5L2016 451.6L1993.8 423.4 M1987.6 291.3L2020.4 391.7M2023.4 355.7L2020.4 391.7L1995.7 361.4 M1987.6 223.8L2024.8 331.8M2027.5 293L2024.8 331.8L1997.7 299.4 M1987.6 156.3L2029.3 272M2031.5 230.2L2029.3 272L1999.6 237.4 M1987.6 88.8L2033.7 212.1M2035.5 167.4L2033.7 212.1L2001.5 175.4 M2073.1 1708.5L2011.7 1652.6M2024.3 1676.3L2011.7 1652.6L2039.7 1665.7 M2073.1 1641L2016.2 1592.7M2028.3 1613.5L2016.2 1592.7L2041.6 1603.7 M2073.1 1573.5L2020.6 1532.8M2032.3 1550.8L2020.6 1532.8L2043.5 1541.7 M2073.1 1506L2025.1 1472.9M2036.3 1488L2025.1 1472.9L2045.5 1479.7 M2073.1 1438.5L2029.5 1413.1M2040.4 1425.2L2029.5 1413.1L2047.4 1417.7 M2073.1 1371.1L2034 1353.2M2044.4 1362.5L2034 1353.2L2049.3 1355.7 M2073.1 1303.6L2038.4 1293.3M2048.4 1299.7L2038.4 1293.3L2051.3 1293.7 M2073.1 1236.1L2042.8 1233.5M2052.5 1236.9L2042.8 1233.5L2053.2 1231.7 M2073.1 1168.6L2047.3 1173.6M2056.5 1174.2L2047.3 1173.6L2055.1 1169.7 M2073.1 1101.1L2051.7 1113.7M2060.5 1111.4L2051.7 1113.7L2057 1107.7 M2073.1 1033.6L2056.2 1053.8M2064.5 1048.6L2056.2 1053.8L2059 1045.7 M2073.1 966.1L2060.6 994M2068.6 985.9L2060.6 994L2060.9 983.7 M2073.1 898.6L2065.1 934.1M2072.6 923.1L2065.1 934.1L2062.8 921.7 M2073.1 831.2L2069.5 874.2M2076.6 860.3L2069.5 874.2L2064.7 859.7 M2073.1 763.7L2074 814.4M2080.7 797.6L2074 814.4L2066.7 797.7 M2073.1 696.2L2078.4 754.5M2084.7 734.8L2078.4 754.5L2068.6 735.7 M2073.1 628.7L2082.8 694.6M2088.7 672L2082.8 694.6L2070.5 673.7 M2073.1 561.2L2087.3 634.7M2092.7 609.2L2087.3 634.7L2072.5 611.7 M2073.1 493.7L2091.7 574.9M2096.8 546.5L2091.7 574.9L2074.4 549.7 M2073.1 426.2L2096.2 515M2100.8 483.7L2096.2 515L2076.3 487.7 M2073.1 358.8L2100.6 455.1M2104.8 420.9L2100.6 455.1L2078.2 425.7 M2073.1 291.3L2105.1 395.2M2108.8 358.2L2105.1 395.2L2080.2 363.7 M2073.1 223.8L2109.5 335.4M2112.9 295.4L2109.5 335.4L2082.1 301.7 M2073.1 156.3L2114 275.5M2116.9 232.6L2114 275.5L2084 239.7 M2073.1 88.8L2118.4 215.6M2120.9 169.9L2118.4 215.6L2085.9 177.7 M2158.5 1708.5L2096.4 1656.1M2109.7 1678.7L2096.4 1656.1L2124.1 1668.1 M2158.5 1641L2100.8 1596.2M2113.7 1616L2100.8 1596.2L2126.1 1606 M2158.5 1573.5L2105.3 1536.4M2117.7 1553.2L2105.3 1536.4L2128 1544 M2158.5 1506L2109.7 1476.5M2121.8 1490.4L2109.7 1476.5L2129.9 1482 M2158.5 1438.5L2114.2 1416.6M2125.8 1427.7L2114.2 1416.6L2131.8 1420 M2158.5 1371.1L2118.6 1356.7M2129.8 1364.9L2118.6 1356.7L2133.8 1358 M2158.5 1303.6L2123.1 1296.9M2133.8 1302.1L2123.1 1296.9L2135.7 1296 M2158.5 1236.1L2127.5 1237M2137.9 1239.4L2127.5 1237L2137.6 1234 M2158.5 1168.6L2132 1177.1M2141.9 1176.6L2132 1177.1L2139.6 1172 M2158.5 1101.1L2136.4 1117.3M2145.9 1113.8L2136.4 1117.3L2141.5 1110 M2158.5 1033.6L2140.8 1057.4M2150 1051.1L2140.8 1057.4L2143.4 1048 M2158.5 966.1L2145.3 997.5M2154 988.3L2145.3 997.5L2145.3 986 M2158.5 898.6L2149.7 937.6M2158 925.5L2149.7 937.6L2147.3 924 M2158.5 831.2L2154.2 877.8M2162 862.8L2154.2 877.8L2149.2 862 M2158.5 763.7L2158.6 817.9M2166.1 800L2158.6 817.9L2151.1 800 M2158.5 696.2L2163.1 758M2170.1 737.2L2163.1 758L2153 738 M2158.5 628.7L2167.5 698.2M2174.1 674.5L2167.5 698.2L2155 676 M2158.5 561.2L2172 638.3M2178.2 611.7L2172 638.3L2156.9 614 M2158.5 493.7L2176.4 578.4M2182.2 548.9L2176.4 578.4L2158.8 552 M2158.5 426.2L2180.8 518.5M2186.2 486.2L2180.8 518.5L2160.8 490 M2158.5 358.8L2185.3 458.7M2190.2 423.4L2185.3 458.7L2162.7 428 M2158.5 291.3L2189.7 398.8M2194.3 360.6L2189.7 398.8L2164.6 366 M2158.5 223.8L2194.2 338.9M2198.3 297.9L2194.2 338.9L2166.5 304 M2158.5 156.3L2198.6 279M2202.3 235.1L2198.6 279L2168.5 242 M2158.5 88.8L2203.1 219.2M2206.3 172.3L2203.1 219.2L2170.4 180 M2244 1708.5L2181.1 1659.6M2195.1 1681.2L2181.1 1659.6L2208.6 1670.4 M2244 1641L2185.5 1599.8M2199.1 1618.4L2185.5 1599.8L2210.5 1608.4 M2244 1573.5L2190 1539.9M2203.2 1555.6L2190 1539.9L2212.4 1546.4 M2244 1506L2194.4 1480M2207.2 1492.9L2194.4 1480L2214.4 1484.3 M2244 1438.5L2198.8 1420.2M2211.2 1430.1L2198.8 1420.2L2216.3 1422.3 M2244 1371.1L2203.3 1360.3M2215.2 1367.3L2203.3 1360.3L2218.2 1360.3 M2244 1303.6L2207.7 1300.4M2219.3 1304.6L2207.7 1300.4L2220.1 1298.3 M2244 1236.1L2212.2 1240.5M2223.3 1241.8L2212.2 1240.5L2222.1 1236.3 M2244 1168.6L2216.6 1180.7M2227.3 1179L2216.6 1180.7L2224 1174.3 M2244 1101.1L2221.1 1120.8M2231.4 1116.3L2221.1 1120.8L2225.9 1112.3 M2244 1033.6L2225.5 1060.9M2235.4 1053.5L2225.5 1060.9L2227.8 1050.3 M2244 966.1L2230 1001.1M2239.4 990.7L2230 1001.1L2229.8 988.3 M2244 898.6L2234.4 941.2M2243.4 928L2234.4 941.2L2231.7 926.3 M2244 831.2L2238.8 881.3M2247.5 865.2L2238.8 881.3L2233.6 864.3 M2244 763.7L2243.3 821.4M2251.5 802.4L2243.3 821.4L2235.6 802.3 M2244 696.2L2247.7 761.6M2255.5 739.7L2247.7 761.6L2237.5 740.3 M2244 628.7L2252.2 701.7M2259.5 676.9L2252.2 701.7L2239.4 678.3 M2244 561.2L2256.6 641.8M2263.6 614.1L2256.6 641.8L2241.3 616.3 M2244 493.7L2261.1 582M2267.6 551.4L2261.1 582L2243.3 554.3 M2244 426.2L2265.5 522.1M2271.6 488.6L2265.5 522.1L2245.2 492.3 M2244 358.8L2270 462.2M2275.7 425.8L2270 462.2L2247.1 430.3 M2244 291.3L2274.4 402.3M2279.7 363.1L2274.4 402.3L2249 368.3 M2244 223.8L2278.8 342.5M2283.7 300.3L2278.8 342.5L2251 306.3 M2244 156.3L2283.3 282.6M2287.7 237.5L2283.3 282.6L2252.9 244.3 M2244 88.8L2287.7 222.7M2291.8 174.8L2287.7 222.7L2254.8 182.3" fill="none" stroke="#008000" stroke-width="3.6" stroke-linejoin="round" stroke-linecap="butt"/>
</g>
<text x="1254.5" y="274.5" font-family="Liberation Sans, Arial, Helvetica, sans-serif" font-weight="bold" font-size="92" fill="#0b246a">Potential V</text>
<text x="1249.5" y="491.5" font-family="Liberation Sans, Arial, Helvetica, sans-serif" font-weight="bold" font-size="92" fill="#993300">Optimal V</text>
<path d="M1717 240.3L1914 239.9" stroke="#0b246a" stroke-width="15" fill="none"/><path d="M1958 239.8 L1903 219.4 L1914 239.9 L1903 260.4Z" fill="#0b246a" stroke="#0b246a" stroke-width="8" stroke-linejoin="round"/>
<path d="M1249 457.6L1047.5 457.8" stroke="#993300" stroke-width="15" fill="none"/><path d="M1003.5 457.8 L1058.5 478.3 L1047.5 457.8 L1058.5 437.3Z" fill="#993300" stroke="#993300" stroke-width="8" stroke-linejoin="round"/>
<rect x="192.8" y="88.8" width="2051.2" height="1619.7" fill="none" stroke="#000" stroke-width="3"/>
<path d="M363.7 1708.5v-20.5M363.7 88.8v20.5M192.8 1573.5h20.5M2244.0 1573.5h-20.5 M534.7 1708.5v-20.5M534.7 88.8v20.5M192.8 1438.5h20.5M2244.0 1438.5h-20.5 M705.6 1708.5v-20.5M705.6 88.8v20.5M192.8 1303.6h20.5M2244.0 1303.6h-20.5 M876.5 1708.5v-20.5M876.5 88.8v20.5M192.8 1168.6h20.5M2244.0 1168.6h-20.5 M1047.5 1708.5v-20.5M1047.5 88.8v20.5M192.8 1033.6h20.5M2244.0 1033.6h-20.5 M1218.4 1708.5v-20.5M1218.4 88.8v20.5M192.8 898.6h20.5M2244.0 898.6h-20.5 M1389.3 1708.5v-20.5M1389.3 88.8v20.5M192.8 763.7h20.5M2244.0 763.7h-20.5 M1560.3 1708.5v-20.5M1560.3 88.8v20.5M192.8 628.7h20.5M2244.0 628.7h-20.5 M1731.2 1708.5v-20.5M1731.2 88.8v20.5M192.8 493.7h20.5M2244.0 493.7h-20.5 M1902.1 1708.5v-20.5M1902.1 88.8v20.5M192.8 358.8h20.5M2244.0 358.8h-20.5 M2073.1 1708.5v-20.5M2073.1 88.8v20.5M192.8 223.8h20.5M2244.0 223.8h-20.5" stroke="#000" stroke-width="4" fill="none"/>
<rect x="2241.6" y="87.3" width="4.4" height="1622.7" fill="#000"/>
<text x="363.7" y="1763.3" text-anchor="middle" font-family="Liberation Sans, Arial, Helvetica, sans-serif" font-size="45.6">1</text>
<text x="179.2" y="1589" text-anchor="end" font-family="Liberation Sans, Arial, Helvetica, sans-serif" font-size="45.6">1</text>
<path d="M326.1 1752.3h23" stroke="#000" stroke-width="3.4"/>
<path d="M128.8 1579.3h23" stroke="#000" stroke-width="3.4"/>
<text x="534.7" y="1763.3" text-anchor="middle" font-family="Liberation Sans, Arial, Helvetica, sans-serif" font-size="45.6">0.8</text>
<text x="179.2" y="1454.1" text-anchor="end" font-family="Liberation Sans, Arial, Helvetica, sans-serif" font-size="45.6">0.8</text>
<path d="M478 1752.3h23" stroke="#000" stroke-width="3.4"/>
<path d="M90.8 1444.3h23" stroke="#000" stroke-width="3.4"/>
<text x="705.6" y="1763.3" text-anchor="middle" font-family="Liberation Sans, Arial, Helvetica, sans-serif" font-size="45.6">0.6</text>
<text x="179.2" y="1319.1" text-anchor="end" font-family="Liberation Sans, Arial, Helvetica, sans-serif" font-size="45.6">0.6</text>
<path d="M648.9 1752.3h23" stroke="#000" stroke-width="3.4"/>
<path d="M90.8 1309.4h23" stroke="#000" stroke-width="3.4"/>
<text x="876.5" y="1763.3" text-anchor="middle" font-family="Liberation Sans, Arial, Helvetica, sans-serif" font-size="45.6">0.4</text>
<text x="179.2" y="1184.1" text-anchor="end" font-family="Liberation Sans, Arial, Helvetica, sans-serif" font-size="45.6">0.4</text>
<path d="M819.8 1752.3h23" stroke="#000" stroke-width="3.4"/>
<path d="M90.8 1174.4h23" stroke="#000" stroke-width="3.4"/>
<text x="1047.5" y="1763.3" text-anchor="middle" font-family="Liberation Sans, Arial, Helvetica, sans-serif" font-size="45.6">0.2</text>
<text x="179.2" y="1049.1" text-anchor="end" font-family="Liberation Sans, Arial, Helvetica, sans-serif" font-size="45.6">0.2</text>
<path d="M990.8 1752.3h23" stroke="#000" stroke-width="3.4"/>
<path d="M90.8 1039.4h23" stroke="#000" stroke-width="3.4"/>
<text x="1218.4" y="1763.3" text-anchor="middle" font-family="Liberation Sans, Arial, Helvetica, sans-serif" font-size="45.6">0</text>
<text x="179.2" y="914.2" text-anchor="end" font-family="Liberation Sans, Arial, Helvetica, sans-serif" font-size="45.6">0</text>
<text x="1389.3" y="1763.3" text-anchor="middle" font-family="Liberation Sans, Arial, Helvetica, sans-serif" font-size="45.6">0.2</text>
<text x="179.2" y="779.2" text-anchor="end" font-family="Liberation Sans, Arial, Helvetica, sans-serif" font-size="45.6">0.2</text>
<text x="1560.3" y="1763.3" text-anchor="middle" font-family="Liberation Sans, Arial, Helvetica, sans-serif" font-size="45.6">0.4</text>
<text x="179.2" y="644.2" text-anchor="end" font-family="Liberation Sans, Arial, Helvetica, sans-serif" font-size="45.6">0.4</text>
<text x="1731.2" y="1763.3" text-anchor="middle" font-family="Liberation Sans, Arial, Helvetica, sans-serif" font-size="45.6">0.6</text>
<text x="179.2" y="509.2" text-anchor="end" font-family="Liberation Sans, Arial, Helvetica, sans-serif" font-size="45.6">0.6</text>
<text x="1902.1" y="1763.3" text-anchor="middle" font-family="Liberation Sans, Arial, Helvetica, sans-serif" font-size="45.6">0.8</text>
<text x="179.2" y="374.3" text-anchor="end" font-family="Liberation Sans, Arial, Helvetica, sans-serif" font-size="45.6">0.8</text>
<text x="2073.1" y="1763.3" text-anchor="middle" font-family="Liberation Sans, Arial, Helvetica, sans-serif" font-size="45.6">1</text>
<text x="179.2" y="239.3" text-anchor="end" font-family="Liberation Sans, Arial, Helvetica, sans-serif" font-size="45.6">1</text>
<text x="1218.4" y="56.2" text-anchor="middle" font-family="Liberation Sans, Arial, Helvetica, sans-serif" font-size="46.1">Optimum Lyapunov Surface</text>
<text x="1214.5" y="1831" text-anchor="middle" font-family="Liberation Sans, Arial, Helvetica, sans-serif" font-size="45.6">x1</text>
<text transform="translate(57 900) rotate(-90)" text-anchor="middle" font-family="Liberation Sans, Arial, Helvetica, sans-serif" font-size="45.6">x2</text>
</svg>
</body></html>
